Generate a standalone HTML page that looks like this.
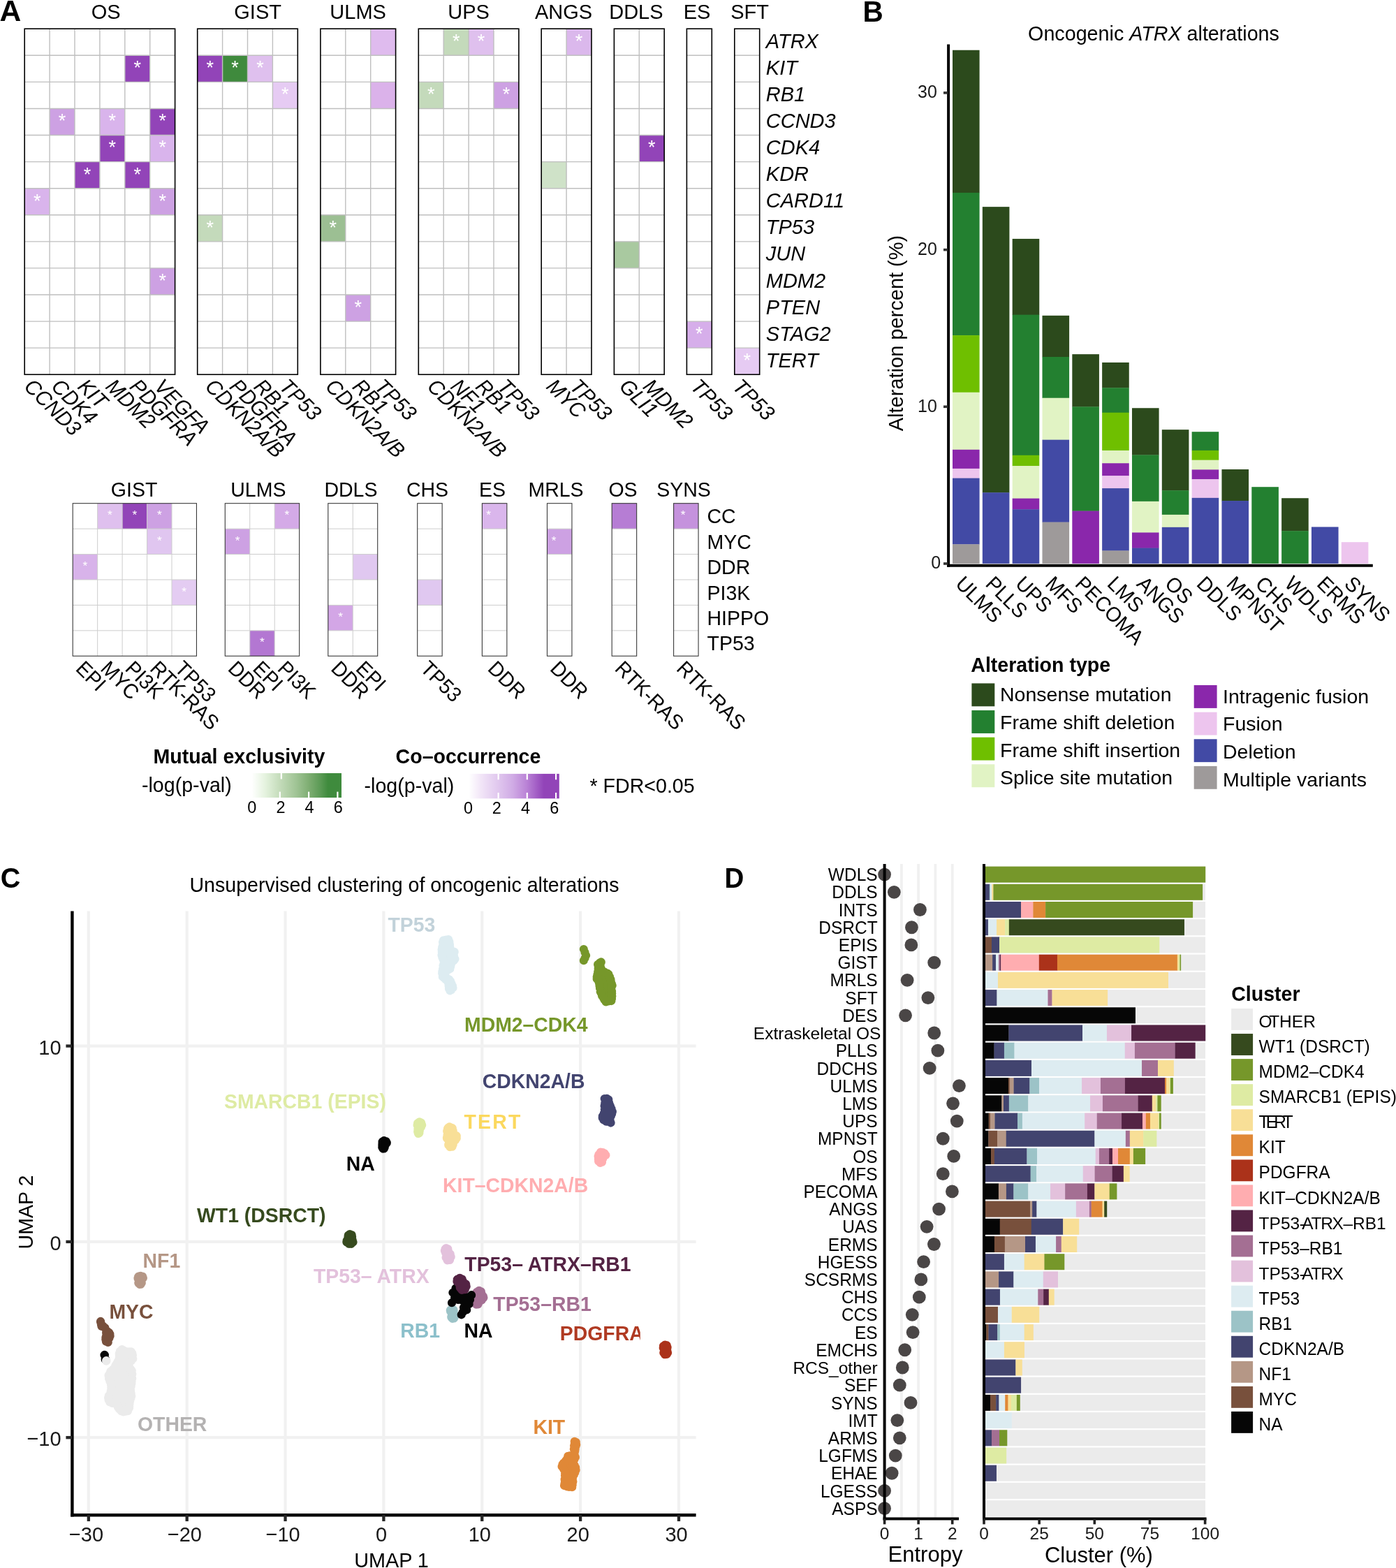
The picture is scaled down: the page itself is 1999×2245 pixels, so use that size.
<!DOCTYPE html>
<html lang="en"><head><meta charset="utf-8"><title>Figure</title>
<style>
html,body{margin:0;padding:0;background:#fff;}
body{width:1999px;height:2245px;overflow:hidden;}
svg{display:block;font-family:"Liberation Sans", Arial, Helvetica, sans-serif;}
</style></head><body>
<svg width="1999" height="2245" viewBox="0 0 1999 2245">
<rect width="1999" height="2245" fill="#fff"/>
<g id="panelA">
<text x="-0.60" y="29.90" font-size="42.60" font-weight="bold">A</text>
<rect x="35.20" y="41.20" width="215.40" height="495.04" fill="#fff"/>
<rect x="178.80" y="79.28" width="35.90" height="38.08" fill="#9244b8"/>
<rect x="71.10" y="155.44" width="35.90" height="38.08" fill="#cda1e3"/>
<rect x="142.90" y="155.44" width="35.90" height="38.08" fill="#d9b4ec"/>
<rect x="214.70" y="155.44" width="35.90" height="38.08" fill="#9244b8"/>
<rect x="142.90" y="193.52" width="35.90" height="38.08" fill="#9244b8"/>
<rect x="214.70" y="193.52" width="35.90" height="38.08" fill="#d9b4ec"/>
<rect x="107.00" y="231.60" width="35.90" height="38.08" fill="#9244b8"/>
<rect x="178.80" y="231.60" width="35.90" height="38.08" fill="#9244b8"/>
<rect x="35.20" y="269.68" width="35.90" height="38.08" fill="#d9b4ec"/>
<rect x="214.70" y="269.68" width="35.90" height="38.08" fill="#cda1e3"/>
<rect x="214.70" y="383.92" width="35.90" height="38.08" fill="#cda1e3"/>
<path d="M71.10 41.20V536.24M107.00 41.20V536.24M142.90 41.20V536.24M178.80 41.20V536.24M214.70 41.20V536.24M35.20 79.28H250.60M35.20 117.36H250.60M35.20 155.44H250.60M35.20 193.52H250.60M35.20 231.60H250.60M35.20 269.68H250.60M35.20 307.76H250.60M35.20 345.84H250.60M35.20 383.92H250.60M35.20 422.00H250.60M35.20 460.08H250.60M35.20 498.16H250.60" stroke="#bfbfbf" stroke-width="1.4" fill="none"/>
<text x="196.75" y="106.22" font-size="27.00" text-anchor="middle" fill="#fff">*</text>
<text x="89.05" y="182.38" font-size="27.00" text-anchor="middle" fill="#fff">*</text>
<text x="160.85" y="182.38" font-size="27.00" text-anchor="middle" fill="#fff">*</text>
<text x="232.65" y="182.38" font-size="27.00" text-anchor="middle" fill="#fff">*</text>
<text x="160.85" y="220.46" font-size="27.00" text-anchor="middle" fill="#fff">*</text>
<text x="232.65" y="220.46" font-size="27.00" text-anchor="middle" fill="#fff">*</text>
<text x="124.95" y="258.54" font-size="27.00" text-anchor="middle" fill="#fff">*</text>
<text x="196.75" y="258.54" font-size="27.00" text-anchor="middle" fill="#fff">*</text>
<text x="53.15" y="296.62" font-size="27.00" text-anchor="middle" fill="#fff">*</text>
<text x="232.65" y="296.62" font-size="27.00" text-anchor="middle" fill="#fff">*</text>
<text x="232.65" y="410.86" font-size="27.00" text-anchor="middle" fill="#fff">*</text>
<rect x="35.20" y="41.20" width="215.40" height="495.04" fill="none" stroke="#000" stroke-width="1.6"/>
<text transform="translate(151.60,26.60) scale(0.9579,1)" font-size="30.28" text-anchor="middle">OS</text>
<text transform="translate(33.05,555.04) rotate(45) scale(0.9579,1)" font-size="30.28" font-style="italic">CCND3</text>
<text transform="translate(72.05,555.04) rotate(45) scale(0.9579,1)" font-size="30.28" font-style="italic">CDK4</text>
<text transform="translate(109.85,555.04) rotate(45) scale(0.9579,1)" font-size="30.28" font-style="italic">KIT</text>
<text transform="translate(149.65,555.04) rotate(45) scale(0.9579,1)" font-size="30.28" font-style="italic">MDM2</text>
<text transform="translate(184.35,555.04) rotate(45) scale(0.9579,1)" font-size="30.28" font-style="italic">PDGFRA</text>
<text transform="translate(219.45,555.04) rotate(45) scale(0.9579,1)" font-size="30.28" font-style="italic">VEGFA</text>
<rect x="282.70" y="41.20" width="143.60" height="495.04" fill="#fff"/>
<rect x="282.70" y="79.28" width="35.90" height="38.08" fill="#9244b8"/>
<rect x="318.60" y="79.28" width="35.90" height="38.08" fill="#3f8a3d"/>
<rect x="354.50" y="79.28" width="35.90" height="38.08" fill="#dfc0ee"/>
<rect x="390.40" y="117.36" width="35.90" height="38.08" fill="#e6cbf3"/>
<rect x="282.70" y="307.76" width="35.90" height="38.08" fill="#c4dabb"/>
<path d="M318.60 41.20V536.24M354.50 41.20V536.24M390.40 41.20V536.24M282.70 79.28H426.30M282.70 117.36H426.30M282.70 155.44H426.30M282.70 193.52H426.30M282.70 231.60H426.30M282.70 269.68H426.30M282.70 307.76H426.30M282.70 345.84H426.30M282.70 383.92H426.30M282.70 422.00H426.30M282.70 460.08H426.30M282.70 498.16H426.30" stroke="#bfbfbf" stroke-width="1.4" fill="none"/>
<text x="300.65" y="106.22" font-size="27.00" text-anchor="middle" fill="#fff">*</text>
<text x="336.55" y="106.22" font-size="27.00" text-anchor="middle" fill="#fff">*</text>
<text x="372.45" y="106.22" font-size="27.00" text-anchor="middle" fill="#fff">*</text>
<text x="408.35" y="144.30" font-size="27.00" text-anchor="middle" fill="#fff">*</text>
<text x="300.65" y="334.70" font-size="27.00" text-anchor="middle" fill="#fff">*</text>
<rect x="282.70" y="41.20" width="143.60" height="495.04" fill="none" stroke="#000" stroke-width="1.6"/>
<text transform="translate(369.10,26.60) scale(0.9579,1)" font-size="30.28" text-anchor="middle">GIST</text>
<text transform="translate(292.15,555.04) rotate(45) scale(0.9579,1)" font-size="30.28" font-style="italic">CDKN2A/B</text>
<text transform="translate(327.25,555.04) rotate(45) scale(0.9579,1)" font-size="30.28" font-style="italic">PDGFRA</text>
<text transform="translate(362.05,555.04) rotate(45) scale(0.9579,1)" font-size="30.28" font-style="italic">RB1</text>
<text transform="translate(398.45,555.04) rotate(45) scale(0.9579,1)" font-size="30.28" font-style="italic">TP53</text>
<rect x="458.90" y="41.20" width="107.70" height="495.04" fill="#fff"/>
<rect x="530.70" y="41.20" width="35.90" height="38.08" fill="#dfbbee"/>
<rect x="530.70" y="117.36" width="35.90" height="38.08" fill="#dbb2ea"/>
<rect x="458.90" y="307.76" width="35.90" height="38.08" fill="#9cbf93"/>
<rect x="494.80" y="422.00" width="35.90" height="38.08" fill="#cda1e3"/>
<path d="M494.80 41.20V536.24M530.70 41.20V536.24M458.90 79.28H566.60M458.90 117.36H566.60M458.90 155.44H566.60M458.90 193.52H566.60M458.90 231.60H566.60M458.90 269.68H566.60M458.90 307.76H566.60M458.90 345.84H566.60M458.90 383.92H566.60M458.90 422.00H566.60M458.90 460.08H566.60M458.90 498.16H566.60" stroke="#bfbfbf" stroke-width="1.4" fill="none"/>
<text x="476.85" y="334.70" font-size="27.00" text-anchor="middle" fill="#fff">*</text>
<text x="512.75" y="448.94" font-size="27.00" text-anchor="middle" fill="#fff">*</text>
<rect x="458.90" y="41.20" width="107.70" height="495.04" fill="none" stroke="#000" stroke-width="1.6"/>
<text transform="translate(512.60,26.60) scale(0.9579,1)" font-size="30.28" text-anchor="middle">ULMS</text>
<text transform="translate(464.55,555.04) rotate(45) scale(0.9579,1)" font-size="30.28" font-style="italic">CDKN2A/B</text>
<text transform="translate(503.25,555.04) rotate(45) scale(0.9579,1)" font-size="30.28" font-style="italic">RB1</text>
<text transform="translate(534.95,555.04) rotate(45) scale(0.9579,1)" font-size="30.28" font-style="italic">TP53</text>
<rect x="599.30" y="41.20" width="143.60" height="495.04" fill="#fff"/>
<rect x="635.20" y="41.20" width="35.90" height="38.08" fill="#c4dabb"/>
<rect x="671.10" y="41.20" width="35.90" height="38.08" fill="#dfc0ee"/>
<rect x="599.30" y="117.36" width="35.90" height="38.08" fill="#c4dabb"/>
<rect x="707.00" y="117.36" width="35.90" height="38.08" fill="#cda1e3"/>
<path d="M635.20 41.20V536.24M671.10 41.20V536.24M707.00 41.20V536.24M599.30 79.28H742.90M599.30 117.36H742.90M599.30 155.44H742.90M599.30 193.52H742.90M599.30 231.60H742.90M599.30 269.68H742.90M599.30 307.76H742.90M599.30 345.84H742.90M599.30 383.92H742.90M599.30 422.00H742.90M599.30 460.08H742.90M599.30 498.16H742.90" stroke="#bfbfbf" stroke-width="1.4" fill="none"/>
<text x="653.15" y="68.14" font-size="27.00" text-anchor="middle" fill="#fff">*</text>
<text x="689.05" y="68.14" font-size="27.00" text-anchor="middle" fill="#fff">*</text>
<text x="617.25" y="144.30" font-size="27.00" text-anchor="middle" fill="#fff">*</text>
<text x="724.95" y="144.30" font-size="27.00" text-anchor="middle" fill="#fff">*</text>
<rect x="599.30" y="41.20" width="143.60" height="495.04" fill="none" stroke="#000" stroke-width="1.6"/>
<text transform="translate(671.00,26.60) scale(0.9579,1)" font-size="30.28" text-anchor="middle">UPS</text>
<text transform="translate(610.25,555.04) rotate(45) scale(0.9579,1)" font-size="30.28" font-style="italic">CDKN2A/B</text>
<text transform="translate(643.65,555.04) rotate(45) scale(0.9579,1)" font-size="30.28" font-style="italic">NF1</text>
<text transform="translate(679.55,555.04) rotate(45) scale(0.9579,1)" font-size="30.28" font-style="italic">RB1</text>
<text transform="translate(710.75,555.04) rotate(45) scale(0.9579,1)" font-size="30.28" font-style="italic">TP53</text>
<rect x="775.20" y="41.20" width="71.80" height="495.04" fill="#fff"/>
<rect x="811.10" y="41.20" width="35.90" height="38.08" fill="#dbb8ec"/>
<rect x="775.20" y="231.60" width="35.90" height="38.08" fill="#cfe2c8"/>
<path d="M811.10 41.20V536.24M775.20 79.28H847.00M775.20 117.36H847.00M775.20 155.44H847.00M775.20 193.52H847.00M775.20 231.60H847.00M775.20 269.68H847.00M775.20 307.76H847.00M775.20 345.84H847.00M775.20 383.92H847.00M775.20 422.00H847.00M775.20 460.08H847.00M775.20 498.16H847.00" stroke="#bfbfbf" stroke-width="1.4" fill="none"/>
<text x="829.05" y="68.14" font-size="27.00" text-anchor="middle" fill="#fff">*</text>
<rect x="775.20" y="41.20" width="71.80" height="495.04" fill="none" stroke="#000" stroke-width="1.6"/>
<text transform="translate(807.10,26.60) scale(0.9579,1)" font-size="30.28" text-anchor="middle">ANGS</text>
<text transform="translate(780.85,555.04) rotate(45) scale(0.9579,1)" font-size="30.28" font-style="italic">MYC</text>
<text transform="translate(814.55,555.04) rotate(45) scale(0.9579,1)" font-size="30.28" font-style="italic">TP53</text>
<rect x="879.40" y="41.20" width="71.80" height="495.04" fill="#fff"/>
<rect x="915.30" y="193.52" width="35.90" height="38.08" fill="#9244b8"/>
<rect x="879.40" y="345.84" width="35.90" height="38.08" fill="#a9c9a0"/>
<path d="M915.30 41.20V536.24M879.40 79.28H951.20M879.40 117.36H951.20M879.40 155.44H951.20M879.40 193.52H951.20M879.40 231.60H951.20M879.40 269.68H951.20M879.40 307.76H951.20M879.40 345.84H951.20M879.40 383.92H951.20M879.40 422.00H951.20M879.40 460.08H951.20M879.40 498.16H951.20" stroke="#bfbfbf" stroke-width="1.4" fill="none"/>
<text x="933.25" y="220.46" font-size="27.00" text-anchor="middle" fill="#fff">*</text>
<rect x="879.40" y="41.20" width="71.80" height="495.04" fill="none" stroke="#000" stroke-width="1.6"/>
<text transform="translate(910.90,26.60) scale(0.9579,1)" font-size="30.28" text-anchor="middle">DDLS</text>
<text transform="translate(885.15,555.04) rotate(45) scale(0.9579,1)" font-size="30.28" font-style="italic">GLI1</text>
<text transform="translate(919.35,555.04) rotate(45) scale(0.9579,1)" font-size="30.28" font-style="italic">MDM2</text>
<rect x="983.40" y="41.20" width="35.90" height="495.04" fill="#fff"/>
<rect x="983.40" y="460.08" width="35.90" height="38.08" fill="#d6aeea"/>
<path d="M983.40 79.28H1019.30M983.40 117.36H1019.30M983.40 155.44H1019.30M983.40 193.52H1019.30M983.40 231.60H1019.30M983.40 269.68H1019.30M983.40 307.76H1019.30M983.40 345.84H1019.30M983.40 383.92H1019.30M983.40 422.00H1019.30M983.40 460.08H1019.30M983.40 498.16H1019.30" stroke="#bfbfbf" stroke-width="1.4" fill="none"/>
<text x="1001.35" y="487.02" font-size="27.00" text-anchor="middle" fill="#fff">*</text>
<rect x="983.40" y="41.20" width="35.90" height="495.04" fill="none" stroke="#000" stroke-width="1.6"/>
<text transform="translate(998.00,26.60) scale(0.9579,1)" font-size="30.28" text-anchor="middle">ES</text>
<text transform="translate(987.45,555.04) rotate(45) scale(0.9579,1)" font-size="30.28" font-style="italic">TP53</text>
<rect x="1051.80" y="41.20" width="35.90" height="495.04" fill="#fff"/>
<rect x="1051.80" y="498.16" width="35.90" height="38.08" fill="#e6cbf3"/>
<path d="M1051.80 79.28H1087.70M1051.80 117.36H1087.70M1051.80 155.44H1087.70M1051.80 193.52H1087.70M1051.80 231.60H1087.70M1051.80 269.68H1087.70M1051.80 307.76H1087.70M1051.80 345.84H1087.70M1051.80 383.92H1087.70M1051.80 422.00H1087.70M1051.80 460.08H1087.70M1051.80 498.16H1087.70" stroke="#bfbfbf" stroke-width="1.4" fill="none"/>
<text x="1069.75" y="525.10" font-size="27.00" text-anchor="middle" fill="#fff">*</text>
<rect x="1051.80" y="41.20" width="35.90" height="495.04" fill="none" stroke="#000" stroke-width="1.6"/>
<text transform="translate(1073.50,26.60) scale(0.9579,1)" font-size="30.28" text-anchor="middle">SFT</text>
<text transform="translate(1047.55,555.04) rotate(45) scale(0.9579,1)" font-size="30.28" font-style="italic">TP53</text>
<text transform="translate(1096.80,68.84) scale(0.9579,1)" font-size="30.28" font-style="italic">ATRX</text>
<text transform="translate(1096.80,106.92) scale(0.9579,1)" font-size="30.28" font-style="italic">KIT</text>
<text transform="translate(1096.80,145.00) scale(0.9579,1)" font-size="30.28" font-style="italic">RB1</text>
<text transform="translate(1096.80,183.08) scale(0.9579,1)" font-size="30.28" font-style="italic">CCND3</text>
<text transform="translate(1096.80,221.16) scale(0.9579,1)" font-size="30.28" font-style="italic">CDK4</text>
<text transform="translate(1096.80,259.24) scale(0.9579,1)" font-size="30.28" font-style="italic">KDR</text>
<text transform="translate(1096.80,297.32) scale(0.9579,1)" font-size="30.28" font-style="italic">CARD11</text>
<text transform="translate(1096.80,335.40) scale(0.9579,1)" font-size="30.28" font-style="italic">TP53</text>
<text transform="translate(1096.80,373.48) scale(0.9579,1)" font-size="30.28" font-style="italic">JUN</text>
<text transform="translate(1096.80,411.56) scale(0.9579,1)" font-size="30.28" font-style="italic">MDM2</text>
<text transform="translate(1096.80,449.64) scale(0.9579,1)" font-size="30.28" font-style="italic">PTEN</text>
<text transform="translate(1096.80,487.72) scale(0.9579,1)" font-size="30.28" font-style="italic">STAG2</text>
<text transform="translate(1096.80,525.80) scale(0.9579,1)" font-size="30.28" font-style="italic">TERT</text>
<rect x="104.20" y="720.70" width="177.25" height="218.58" fill="#fff"/>
<rect x="139.65" y="720.70" width="35.45" height="36.43" fill="#dfc0ee"/>
<rect x="175.10" y="720.70" width="35.45" height="36.43" fill="#9244b8"/>
<rect x="210.55" y="720.70" width="35.45" height="36.43" fill="#cda1e3"/>
<rect x="210.55" y="757.13" width="35.45" height="36.43" fill="#e0c6f0"/>
<rect x="104.20" y="793.56" width="35.45" height="36.43" fill="#d8b3ea"/>
<rect x="246.00" y="829.99" width="35.45" height="36.43" fill="#e4ccf2"/>
<path d="M139.65 720.70V939.28M175.10 720.70V939.28M210.55 720.70V939.28M246.00 720.70V939.28M104.20 757.13H281.45M104.20 793.56H281.45M104.20 829.99H281.45M104.20 866.42H281.45M104.20 902.85H281.45" stroke="#cdcdcd" stroke-width="1.0" fill="none"/>
<text x="157.38" y="743.22" font-size="17.30" text-anchor="middle" fill="#fff">*</text>
<text x="192.82" y="743.22" font-size="17.30" text-anchor="middle" fill="#fff">*</text>
<text x="228.28" y="743.22" font-size="17.30" text-anchor="middle" fill="#fff">*</text>
<text x="228.28" y="779.64" font-size="17.30" text-anchor="middle" fill="#fff">*</text>
<text x="121.93" y="816.08" font-size="17.30" text-anchor="middle" fill="#fff">*</text>
<text x="263.73" y="852.50" font-size="17.30" text-anchor="middle" fill="#fff">*</text>
<rect x="104.20" y="720.70" width="177.25" height="218.58" fill="none" stroke="#3a3a3a" stroke-width="1.1"/>
<text transform="translate(192.10,711.00) scale(0.9579,1)" font-size="29.75" text-anchor="middle">GIST</text>
<text transform="translate(106.93,958.78) rotate(45) scale(0.9579,1)" font-size="29.75">EPI</text>
<text transform="translate(142.38,958.78) rotate(45) scale(0.9579,1)" font-size="29.75">MYC</text>
<text transform="translate(177.82,958.78) rotate(45) scale(0.9579,1)" font-size="29.75">PI3K</text>
<text transform="translate(213.28,958.78) rotate(45) scale(0.9579,1)" font-size="29.75">RTK-RAS</text>
<text transform="translate(248.73,958.78) rotate(45) scale(0.9579,1)" font-size="29.75">TP53</text>
<rect x="322.30" y="720.70" width="106.35" height="218.58" fill="#fff"/>
<rect x="393.20" y="720.70" width="35.45" height="36.43" fill="#d4aae7"/>
<rect x="322.30" y="757.13" width="35.45" height="36.43" fill="#cda1e3"/>
<rect x="357.75" y="902.85" width="35.45" height="36.43" fill="#b377d2"/>
<path d="M357.75 720.70V939.28M393.20 720.70V939.28M322.30 757.13H428.65M322.30 793.56H428.65M322.30 829.99H428.65M322.30 866.42H428.65M322.30 902.85H428.65" stroke="#cdcdcd" stroke-width="1.0" fill="none"/>
<text x="410.93" y="743.22" font-size="17.30" text-anchor="middle" fill="#fff">*</text>
<text x="340.03" y="779.64" font-size="17.30" text-anchor="middle" fill="#fff">*</text>
<text x="375.48" y="925.37" font-size="17.30" text-anchor="middle" fill="#fff">*</text>
<rect x="322.30" y="720.70" width="106.35" height="218.58" fill="none" stroke="#3a3a3a" stroke-width="1.1"/>
<text transform="translate(369.80,711.00) scale(0.9579,1)" font-size="29.75" text-anchor="middle">ULMS</text>
<text transform="translate(325.03,958.78) rotate(45) scale(0.9579,1)" font-size="29.75">DDR</text>
<text transform="translate(360.48,958.78) rotate(45) scale(0.9579,1)" font-size="29.75">EPI</text>
<text transform="translate(395.93,958.78) rotate(45) scale(0.9579,1)" font-size="29.75">PI3K</text>
<rect x="469.80" y="720.70" width="70.90" height="218.58" fill="#fff"/>
<rect x="505.25" y="793.56" width="35.45" height="36.43" fill="#e0c8f0"/>
<rect x="469.80" y="866.42" width="35.45" height="36.43" fill="#d3a6e6"/>
<path d="M505.25 720.70V939.28M469.80 757.13H540.70M469.80 793.56H540.70M469.80 829.99H540.70M469.80 866.42H540.70M469.80 902.85H540.70" stroke="#cdcdcd" stroke-width="1.0" fill="none"/>
<text x="487.53" y="888.93" font-size="17.30" text-anchor="middle" fill="#fff">*</text>
<rect x="469.80" y="720.70" width="70.90" height="218.58" fill="none" stroke="#3a3a3a" stroke-width="1.1"/>
<text transform="translate(502.40,711.00) scale(0.9579,1)" font-size="29.75" text-anchor="middle">DDLS</text>
<text transform="translate(472.53,958.78) rotate(45) scale(0.9579,1)" font-size="29.75">DDR</text>
<text transform="translate(507.98,958.78) rotate(45) scale(0.9579,1)" font-size="29.75">EPI</text>
<rect x="597.70" y="720.70" width="35.45" height="218.58" fill="#fff"/>
<rect x="597.70" y="829.99" width="35.45" height="36.43" fill="#e0c8f0"/>
<path d="M597.70 757.13H633.15M597.70 793.56H633.15M597.70 829.99H633.15M597.70 866.42H633.15M597.70 902.85H633.15" stroke="#cdcdcd" stroke-width="1.0" fill="none"/>
<rect x="597.70" y="720.70" width="35.45" height="218.58" fill="none" stroke="#3a3a3a" stroke-width="1.1"/>
<text transform="translate(612.00,711.00) scale(0.9579,1)" font-size="29.75" text-anchor="middle">CHS</text>
<text transform="translate(600.43,958.78) rotate(45) scale(0.9579,1)" font-size="29.75">TP53</text>
<rect x="690.40" y="720.70" width="35.45" height="218.58" fill="#fff"/>
<rect x="690.40" y="720.70" width="35.45" height="36.43" fill="#dab6ec"/>
<path d="M690.40 757.13H725.85M690.40 793.56H725.85M690.40 829.99H725.85M690.40 866.42H725.85M690.40 902.85H725.85" stroke="#cdcdcd" stroke-width="1.0" fill="none"/>
<text x="699.62" y="743.22" font-size="17.30" text-anchor="middle" fill="#fff">*</text>
<rect x="690.40" y="720.70" width="35.45" height="218.58" fill="none" stroke="#3a3a3a" stroke-width="1.1"/>
<text transform="translate(705.00,711.00) scale(0.9579,1)" font-size="29.75" text-anchor="middle">ES</text>
<text transform="translate(696.92,958.78) rotate(45) scale(0.9579,1)" font-size="29.75">DDR</text>
<rect x="783.50" y="720.70" width="35.45" height="218.58" fill="#fff"/>
<rect x="783.50" y="757.13" width="35.45" height="36.43" fill="#cda1e3"/>
<path d="M783.50 757.13H818.95M783.50 793.56H818.95M783.50 829.99H818.95M783.50 866.42H818.95M783.50 902.85H818.95" stroke="#cdcdcd" stroke-width="1.0" fill="none"/>
<text x="793.23" y="779.64" font-size="17.30" text-anchor="middle" fill="#fff">*</text>
<rect x="783.50" y="720.70" width="35.45" height="218.58" fill="none" stroke="#3a3a3a" stroke-width="1.1"/>
<text transform="translate(796.00,711.00) scale(0.9579,1)" font-size="29.75" text-anchor="middle">MRLS</text>
<text transform="translate(786.23,958.78) rotate(45) scale(0.9579,1)" font-size="29.75">DDR</text>
<rect x="876.20" y="720.70" width="35.45" height="218.58" fill="#fff"/>
<rect x="876.20" y="720.70" width="35.45" height="36.43" fill="#b67dd4"/>
<path d="M876.20 757.13H911.65M876.20 793.56H911.65M876.20 829.99H911.65M876.20 866.42H911.65M876.20 902.85H911.65" stroke="#cdcdcd" stroke-width="1.0" fill="none"/>
<rect x="876.20" y="720.70" width="35.45" height="218.58" fill="none" stroke="#3a3a3a" stroke-width="1.1"/>
<text transform="translate(892.00,711.00) scale(0.9579,1)" font-size="29.75" text-anchor="middle">OS</text>
<text transform="translate(878.93,958.78) rotate(45) scale(0.9579,1)" font-size="29.75">RTK-RAS</text>
<rect x="964.60" y="720.70" width="35.45" height="218.58" fill="#fff"/>
<rect x="964.60" y="720.70" width="35.45" height="36.43" fill="#c592dd"/>
<path d="M964.60 757.13H1000.05M964.60 793.56H1000.05M964.60 829.99H1000.05M964.60 866.42H1000.05M964.60 902.85H1000.05" stroke="#cdcdcd" stroke-width="1.0" fill="none"/>
<text x="978.12" y="743.22" font-size="17.30" text-anchor="middle" fill="#fff">*</text>
<rect x="964.60" y="720.70" width="35.45" height="218.58" fill="none" stroke="#3a3a3a" stroke-width="1.1"/>
<text transform="translate(979.00,711.00) scale(0.9579,1)" font-size="29.75" text-anchor="middle">SYNS</text>
<text transform="translate(967.33,958.78) rotate(45) scale(0.9579,1)" font-size="29.75">RTK-RAS</text>
<text transform="translate(1012.50,749.22) scale(0.9579,1)" font-size="29.75">CC</text>
<text transform="translate(1012.50,785.64) scale(0.9579,1)" font-size="29.75">MYC</text>
<text transform="translate(1012.50,822.08) scale(0.9579,1)" font-size="29.75">DDR</text>
<text transform="translate(1012.50,858.50) scale(0.9579,1)" font-size="29.75">PI3K</text>
<text transform="translate(1012.50,894.93) scale(0.9579,1)" font-size="29.75">HIPPO</text>
<text transform="translate(1012.50,931.37) scale(0.9579,1)" font-size="29.75">TP53</text>
<defs><linearGradient id="gG" x1="0" x2="1" y1="0" y2="0"><stop offset="0" stop-color="#ffffff"/><stop offset="0.147" stop-color="#e5f3df"/><stop offset="0.317" stop-color="#c3dbb9"/><stop offset="0.494" stop-color="#a0c495"/><stop offset="0.633" stop-color="#7fae73"/><stop offset="0.764" stop-color="#5b9a55"/><stop offset="0.85" stop-color="#3f8b3d"/><stop offset="1" stop-color="#3f8b3d"/></linearGradient><linearGradient id="gP" x1="0" x2="1" y1="0" y2="0"><stop offset="0" stop-color="#ffffff"/><stop offset="0.141" stop-color="#f1e4f7"/><stop offset="0.324" stop-color="#e0c7ee"/><stop offset="0.485" stop-color="#d0abe5"/><stop offset="0.637" stop-color="#ba83d6"/><stop offset="0.752" stop-color="#a25dc5"/><stop offset="0.83" stop-color="#9244b8"/><stop offset="1" stop-color="#9244b8"/></linearGradient></defs>
<text transform="translate(219.60,1092.60) scale(0.9450,1)" font-size="30.20" font-weight="bold">Mutual exclusivity</text>
<text x="203.00" y="1134.30" font-size="28.60">-log(p-val)</text>
<rect x="360.60" y="1107.00" width="128.40" height="35.00" fill="url(#gG)"/>
<line x1="400.80" y1="1133.60" x2="400.80" y2="1142.00" stroke="#fff" stroke-width="2.2"/>
<line x1="442.10" y1="1133.60" x2="442.10" y2="1142.00" stroke="#fff" stroke-width="2.2"/>
<line x1="483.40" y1="1133.60" x2="483.40" y2="1142.00" stroke="#fff" stroke-width="2.2"/>
<line x1="402.80" y1="1107.00" x2="402.80" y2="1115.40" stroke="#fff" stroke-width="2.2"/>
<text transform="translate(360.90,1164.20) scale(0.9579,1)" font-size="24.53" text-anchor="middle">0</text>
<text transform="translate(402.00,1164.20) scale(0.9579,1)" font-size="24.53" text-anchor="middle">2</text>
<text transform="translate(443.10,1164.20) scale(0.9579,1)" font-size="24.53" text-anchor="middle">4</text>
<text transform="translate(484.40,1164.20) scale(0.9579,1)" font-size="24.53" text-anchor="middle">6</text>
<text transform="translate(566.60,1092.90) scale(0.9450,1)" font-size="30.20" font-weight="bold">Co–occurrence</text>
<text x="521.60" y="1134.80" font-size="28.60">-log(p-val)</text>
<rect x="671.50" y="1107.90" width="129.30" height="35.40" fill="url(#gP)"/>
<line x1="713.60" y1="1134.90" x2="713.60" y2="1143.30" stroke="#fff" stroke-width="2.2"/>
<line x1="754.80" y1="1134.90" x2="754.80" y2="1143.30" stroke="#fff" stroke-width="2.2"/>
<line x1="796.10" y1="1134.90" x2="796.10" y2="1143.30" stroke="#fff" stroke-width="2.2"/>
<line x1="713.60" y1="1107.90" x2="713.60" y2="1116.30" stroke="#fff" stroke-width="2.2"/>
<line x1="754.80" y1="1107.90" x2="754.80" y2="1116.30" stroke="#fff" stroke-width="2.2"/>
<line x1="796.10" y1="1107.90" x2="796.10" y2="1116.30" stroke="#fff" stroke-width="2.2"/>
<text transform="translate(670.50,1164.60) scale(0.9579,1)" font-size="24.53" text-anchor="middle">0</text>
<text transform="translate(711.30,1164.60) scale(0.9579,1)" font-size="24.53" text-anchor="middle">2</text>
<text transform="translate(752.60,1164.60) scale(0.9579,1)" font-size="24.53" text-anchor="middle">4</text>
<text transform="translate(793.90,1164.60) scale(0.9579,1)" font-size="24.53" text-anchor="middle">6</text>
<text transform="translate(844.50,1135.40) scale(0.9579,1)" font-size="29.86">* FDR&lt;0.05</text>
</g>
<g id="panelB">
<text transform="translate(1235.60,30.90) scale(0.9700,1)" font-size="41.80" font-weight="bold">B</text>
<text x="1652" y="58.4" font-size="28.7" text-anchor="middle">Oncogenic <tspan font-style="italic">ATRX</tspan> alterations</text>
<rect x="1364.00" y="71.75" width="38.60" height="204.46" fill="#2c4a1c"/>
<rect x="1364.00" y="275.91" width="38.60" height="204.46" fill="#238030"/>
<rect x="1364.00" y="480.07" width="38.60" height="81.96" fill="#6fbf00"/>
<rect x="1364.00" y="561.73" width="38.60" height="82.35" fill="#e1f3c4"/>
<rect x="1364.00" y="643.78" width="38.60" height="27.39" fill="#8a27ab"/>
<rect x="1364.00" y="670.87" width="38.60" height="14.04" fill="#edc5ee"/>
<rect x="1364.00" y="684.61" width="38.60" height="94.94" fill="#424aa5"/>
<rect x="1364.00" y="779.25" width="38.60" height="27.65" fill="#9e9a9a"/>
<text transform="translate(1366.80,837.60) rotate(45) scale(0.9579,1)" font-size="29.75">ULMS</text>
<rect x="1406.83" y="296.14" width="38.60" height="409.38" fill="#2c4a1c"/>
<rect x="1406.83" y="705.22" width="38.60" height="101.68" fill="#424aa5"/>
<text transform="translate(1409.63,837.60) rotate(45) scale(0.9579,1)" font-size="29.75">PLLS</text>
<rect x="1449.66" y="341.93" width="38.60" height="109.06" fill="#2c4a1c"/>
<rect x="1449.66" y="450.69" width="38.60" height="201.41" fill="#238030"/>
<rect x="1449.66" y="651.79" width="38.60" height="15.56" fill="#6fbf00"/>
<rect x="1449.66" y="667.06" width="38.60" height="46.86" fill="#e1f3c4"/>
<rect x="1449.66" y="713.61" width="38.60" height="15.95" fill="#8a27ab"/>
<rect x="1449.66" y="729.26" width="38.60" height="77.64" fill="#424aa5"/>
<text transform="translate(1452.46,837.60) rotate(45) scale(0.9579,1)" font-size="29.75">UPS</text>
<rect x="1492.49" y="451.83" width="38.60" height="59.45" fill="#2c4a1c"/>
<rect x="1492.49" y="510.98" width="38.60" height="59.07" fill="#238030"/>
<rect x="1492.49" y="569.75" width="38.60" height="60.21" fill="#e1f3c4"/>
<rect x="1492.49" y="629.66" width="38.60" height="118.22" fill="#424aa5"/>
<rect x="1492.49" y="747.58" width="38.60" height="59.32" fill="#9e9a9a"/>
<text transform="translate(1495.29,837.60) rotate(45) scale(0.9579,1)" font-size="29.75">MFS</text>
<rect x="1535.32" y="507.16" width="38.60" height="75.48" fill="#2c4a1c"/>
<rect x="1535.32" y="582.34" width="38.60" height="149.51" fill="#238030"/>
<rect x="1535.32" y="731.55" width="38.60" height="75.35" fill="#8a27ab"/>
<text transform="translate(1538.12,837.60) rotate(45) scale(0.9579,1)" font-size="29.75">PECOMA</text>
<rect x="1578.15" y="518.99" width="38.60" height="36.55" fill="#2c4a1c"/>
<rect x="1578.15" y="555.25" width="38.60" height="35.79" fill="#238030"/>
<rect x="1578.15" y="590.74" width="38.60" height="54.49" fill="#6fbf00"/>
<rect x="1578.15" y="644.92" width="38.60" height="18.62" fill="#e1f3c4"/>
<rect x="1578.15" y="663.24" width="38.60" height="18.24" fill="#8a27ab"/>
<rect x="1578.15" y="681.18" width="38.60" height="18.24" fill="#edc5ee"/>
<rect x="1578.15" y="699.11" width="38.60" height="89.60" fill="#424aa5"/>
<rect x="1578.15" y="788.41" width="38.60" height="18.49" fill="#9e9a9a"/>
<text transform="translate(1583.95,837.60) rotate(45) scale(0.9579,1)" font-size="29.75">LMS</text>
<rect x="1620.98" y="584.25" width="38.60" height="67.46" fill="#2c4a1c"/>
<rect x="1620.98" y="651.41" width="38.60" height="66.70" fill="#238030"/>
<rect x="1620.98" y="717.81" width="38.60" height="44.95" fill="#e1f3c4"/>
<rect x="1620.98" y="762.46" width="38.60" height="22.43" fill="#8a27ab"/>
<rect x="1620.98" y="784.59" width="38.60" height="22.31" fill="#424aa5"/>
<text transform="translate(1626.28,837.60) rotate(45) scale(0.9579,1)" font-size="29.75">ANGS</text>
<rect x="1663.81" y="615.16" width="38.60" height="87.31" fill="#2c4a1c"/>
<rect x="1663.81" y="702.17" width="38.60" height="35.03" fill="#238030"/>
<rect x="1663.81" y="736.89" width="38.60" height="18.24" fill="#e1f3c4"/>
<rect x="1663.81" y="754.83" width="38.60" height="52.07" fill="#424aa5"/>
<text transform="translate(1666.61,837.60) rotate(45) scale(0.9579,1)" font-size="29.75">OS</text>
<rect x="1706.64" y="618.21" width="38.60" height="27.01" fill="#238030"/>
<rect x="1706.64" y="644.92" width="38.60" height="14.04" fill="#6fbf00"/>
<rect x="1706.64" y="658.66" width="38.60" height="14.04" fill="#e1f3c4"/>
<rect x="1706.64" y="672.40" width="38.60" height="14.04" fill="#8a27ab"/>
<rect x="1706.64" y="686.14" width="38.60" height="27.01" fill="#edc5ee"/>
<rect x="1706.64" y="712.85" width="38.60" height="94.05" fill="#424aa5"/>
<text transform="translate(1711.94,837.60) rotate(45) scale(0.9579,1)" font-size="29.75">DDLS</text>
<rect x="1749.47" y="672.02" width="38.60" height="45.33" fill="#2c4a1c"/>
<rect x="1749.47" y="717.05" width="38.60" height="89.85" fill="#424aa5"/>
<text transform="translate(1754.77,837.60) rotate(45) scale(0.9579,1)" font-size="29.75">MPNST</text>
<rect x="1792.30" y="697.20" width="38.60" height="109.70" fill="#238030"/>
<text transform="translate(1796.10,837.60) rotate(45) scale(0.9579,1)" font-size="29.75">CHS</text>
<rect x="1835.13" y="713.23" width="38.60" height="47.24" fill="#2c4a1c"/>
<rect x="1835.13" y="760.17" width="38.60" height="46.73" fill="#238030"/>
<text transform="translate(1837.93,837.60) rotate(45) scale(0.9579,1)" font-size="29.75">WDLS</text>
<rect x="1877.96" y="754.45" width="38.60" height="52.45" fill="#424aa5"/>
<text transform="translate(1884.26,837.60) rotate(45) scale(0.9579,1)" font-size="29.75">ERMS</text>
<rect x="1920.79" y="776.20" width="38.60" height="30.70" fill="#edc5ee"/>
<text transform="translate(1923.59,837.60) rotate(45) scale(0.9579,1)" font-size="29.75">SYNS</text>
<line x1="1358.10" y1="63.50" x2="1358.10" y2="811.70" stroke="#000" stroke-width="4.0"/>
<line x1="1356.10" y1="809.70" x2="1965.80" y2="809.70" stroke="#000" stroke-width="4.0"/>
<line x1="1351.00" y1="132.90" x2="1357.00" y2="132.90" stroke="#333" stroke-width="3.6"/>
<text x="1341.80" y="140.10" font-size="25.00" text-anchor="end" fill="#1a1a1a">30</text>
<line x1="1351.00" y1="357.60" x2="1357.00" y2="357.60" stroke="#333" stroke-width="3.6"/>
<text x="1341.80" y="364.80" font-size="25.00" text-anchor="end" fill="#1a1a1a">20</text>
<line x1="1351.00" y1="582.30" x2="1357.00" y2="582.30" stroke="#333" stroke-width="3.6"/>
<text x="1341.80" y="589.50" font-size="25.00" text-anchor="end" fill="#1a1a1a">10</text>
<line x1="1351.00" y1="807.00" x2="1357.00" y2="807.00" stroke="#333" stroke-width="3.6"/>
<text x="1347.20" y="814.20" font-size="25.00" text-anchor="end" fill="#1a1a1a">0</text>
<text transform="translate(1292.50,477.00) rotate(-90)" font-size="29.00" text-anchor="middle">Alteration percent (%)</text>
<text transform="translate(1390.30,961.50) scale(0.9450,1)" font-size="30.20" font-weight="bold">Alteration type</text>
<rect x="1391.40" y="978.40" width="32.90" height="32.90" fill="#2c4a1c"/>
<text x="1432.00" y="1004.20" font-size="28.50">Nonsense mutation</text>
<rect x="1391.40" y="1017.03" width="32.90" height="32.90" fill="#238030"/>
<text x="1432.00" y="1043.95" font-size="28.50">Frame shift deletion</text>
<rect x="1391.40" y="1055.66" width="32.90" height="32.90" fill="#6fbf00"/>
<text x="1432.00" y="1083.70" font-size="28.50">Frame shift insertion</text>
<rect x="1391.40" y="1094.29" width="32.90" height="32.90" fill="#e1f3c4"/>
<text x="1432.00" y="1123.45" font-size="28.50">Splice site mutation</text>
<rect x="1709.70" y="981.00" width="32.90" height="32.90" fill="#8a27ab"/>
<text x="1751.00" y="1006.60" font-size="28.50">Intragenic fusion</text>
<rect x="1709.70" y="1019.63" width="32.90" height="32.90" fill="#edc5ee"/>
<text x="1751.00" y="1046.35" font-size="28.50">Fusion</text>
<rect x="1709.70" y="1058.26" width="32.90" height="32.90" fill="#424aa5"/>
<text x="1751.00" y="1086.10" font-size="28.50">Deletion</text>
<rect x="1709.70" y="1096.89" width="32.90" height="32.90" fill="#9e9a9a"/>
<text x="1751.00" y="1125.85" font-size="28.50">Multiple variants</text>
</g>
<g id="panelC">
<text transform="translate(0.80,1271.40) scale(0.9579,1)" font-size="41.24" font-weight="bold">C</text>
<text x="579.00" y="1277.00" font-size="28.60" text-anchor="middle">Unsupervised clustering of oncogenic alterations</text>
<path d="M126.82 1304.5V2169.3M267.68 1304.5V2169.3M408.54 1304.5V2169.3M549.40 1304.5V2169.3M690.26 1304.5V2169.3M831.12 1304.5V2169.3M971.98 1304.5V2169.3M103.4 2058.20H996.6M103.4 1777.90H996.6M103.4 1497.60H996.6" stroke="#f1f1f1" stroke-width="4.2" fill="none"/>
<path d="M143.4 1940.1a6.3 6.3 0 1 0 12.6 0a6.3 6.3 0 1 0 -12.6 0M144.6 1946.2a6.3 6.3 0 1 0 12.6 0a6.3 6.3 0 1 0 -12.6 0" fill="#060606"/>
<g fill="#ebebeb"><path d="M175.1 1931.6L172.4 1933.1L170.8 1937.3L170.8 1943.7L170.7 1944.3L170.6 1944.9L170.5 1945.5L170.3 1946.1L170.0 1946.6L164.4 1956.8L164.1 1957.3L163.8 1957.8L163.4 1958.2L158.5 1963.1L155.5 1969.1L155.8 1974.9L158.3 1981.5L158.5 1982.0L158.6 1982.5L158.7 1983.1L158.7 1983.6L158.7 1992.0L158.7 1992.6L158.6 1993.2L158.4 1993.8L158.2 1994.3L158.0 1994.9L157.7 1995.4L155.0 1999.4L155.0 2003.6L157.6 2008.9L164.0 2010.1L164.6 2010.3L165.2 2010.5L165.7 2010.8L166.2 2011.1L166.7 2011.5L167.2 2011.9L167.6 2012.4L168.0 2012.9L168.3 2013.4L170.5 2017.9L174.9 2021.7L182.6 2020.5L185.1 2018.6L185.4 2010.3L185.5 2009.7L185.6 2009.1L188.1 1998.9L187.3 1988.8L187.3 1988.1L187.4 1987.3L189.2 1975.5L189.9 1963.9L185.5 1957.3L185.2 1956.8L184.9 1956.2L184.7 1955.6L184.6 1955.0L184.5 1954.4L184.5 1953.8L184.5 1953.2L184.6 1952.5L184.8 1951.9L185.0 1951.4L185.3 1950.8L185.7 1950.3L186.0 1949.8L186.5 1949.4L190.4 1945.8L190.1 1940.9L188.6 1934.9L181.3 1934.9L180.7 1934.9L180.1 1934.8L179.5 1934.7L179.0 1934.5L178.4 1934.2L177.9 1933.9L177.4 1933.5L175.1 1931.6Z"/><path d="M168.5 1932.2a6.15 6.15 0 1 0 12.3 0a6.15 6.15 0 1 0 -12.3 0M165.8 1934.6a6.15 6.15 0 1 0 12.3 0a6.15 6.15 0 1 0 -12.3 0M164.6 1938.2a6.15 6.15 0 1 0 12.3 0a6.15 6.15 0 1 0 -12.3 0M164.7 1941.2a6.15 6.15 0 1 0 12.3 0a6.15 6.15 0 1 0 -12.3 0M164.5 1944.9a6.15 6.15 0 1 0 12.3 0a6.15 6.15 0 1 0 -12.3 0M162.5 1949.6a6.15 6.15 0 1 0 12.3 0a6.15 6.15 0 1 0 -12.3 0M160.9 1952.5a6.15 6.15 0 1 0 12.3 0a6.15 6.15 0 1 0 -12.3 0M159.3 1955.2a6.15 6.15 0 1 0 12.3 0a6.15 6.15 0 1 0 -12.3 0M157.6 1958.7a6.15 6.15 0 1 0 12.3 0a6.15 6.15 0 1 0 -12.3 0M155.2 1961.0a6.15 6.15 0 1 0 12.3 0a6.15 6.15 0 1 0 -12.3 0M152.2 1963.5a6.15 6.15 0 1 0 12.3 0a6.15 6.15 0 1 0 -12.3 0M150.8 1967.1a6.15 6.15 0 1 0 12.3 0a6.15 6.15 0 1 0 -12.3 0M149.4 1969.4a6.15 6.15 0 1 0 12.3 0a6.15 6.15 0 1 0 -12.3 0M150.0 1974.1a6.15 6.15 0 1 0 12.3 0a6.15 6.15 0 1 0 -12.3 0M151.2 1977.3a6.15 6.15 0 1 0 12.3 0a6.15 6.15 0 1 0 -12.3 0M152.5 1980.6a6.15 6.15 0 1 0 12.3 0a6.15 6.15 0 1 0 -12.3 0M153.1 1983.5a6.15 6.15 0 1 0 12.3 0a6.15 6.15 0 1 0 -12.3 0M153.1 1987.1a6.15 6.15 0 1 0 12.3 0a6.15 6.15 0 1 0 -12.3 0M152.6 1991.8a6.15 6.15 0 1 0 12.3 0a6.15 6.15 0 1 0 -12.3 0M152.3 1994.0a6.15 6.15 0 1 0 12.3 0a6.15 6.15 0 1 0 -12.3 0M149.7 1998.3a6.15 6.15 0 1 0 12.3 0a6.15 6.15 0 1 0 -12.3 0M149.0 2001.2a6.15 6.15 0 1 0 12.3 0a6.15 6.15 0 1 0 -12.3 0M149.5 2004.4a6.15 6.15 0 1 0 12.3 0a6.15 6.15 0 1 0 -12.3 0M151.1 2007.3a6.15 6.15 0 1 0 12.3 0a6.15 6.15 0 1 0 -12.3 0M154.4 2008.8a6.15 6.15 0 1 0 12.3 0a6.15 6.15 0 1 0 -12.3 0M158.1 2009.5a6.15 6.15 0 1 0 12.3 0a6.15 6.15 0 1 0 -12.3 0M161.4 2011.4a6.15 6.15 0 1 0 12.3 0a6.15 6.15 0 1 0 -12.3 0M162.9 2014.9a6.15 6.15 0 1 0 12.3 0a6.15 6.15 0 1 0 -12.3 0M164.9 2017.7a6.15 6.15 0 1 0 12.3 0a6.15 6.15 0 1 0 -12.3 0M167.7 2020.4a6.15 6.15 0 1 0 12.3 0a6.15 6.15 0 1 0 -12.3 0M170.6 2021.3a6.15 6.15 0 1 0 12.3 0a6.15 6.15 0 1 0 -12.3 0M174.4 2020.5a6.15 6.15 0 1 0 12.3 0a6.15 6.15 0 1 0 -12.3 0M176.9 2020.1a6.15 6.15 0 1 0 12.3 0a6.15 6.15 0 1 0 -12.3 0M178.8 2015.8a6.15 6.15 0 1 0 12.3 0a6.15 6.15 0 1 0 -12.3 0M179.0 2013.6a6.15 6.15 0 1 0 12.3 0a6.15 6.15 0 1 0 -12.3 0M179.3 2009.9a6.15 6.15 0 1 0 12.3 0a6.15 6.15 0 1 0 -12.3 0M179.9 2006.1a6.15 6.15 0 1 0 12.3 0a6.15 6.15 0 1 0 -12.3 0M181.2 2002.0a6.15 6.15 0 1 0 12.3 0a6.15 6.15 0 1 0 -12.3 0M182.0 1998.9a6.15 6.15 0 1 0 12.3 0a6.15 6.15 0 1 0 -12.3 0M181.5 1995.0a6.15 6.15 0 1 0 12.3 0a6.15 6.15 0 1 0 -12.3 0M180.9 1990.7a6.15 6.15 0 1 0 12.3 0a6.15 6.15 0 1 0 -12.3 0M180.6 1987.8a6.15 6.15 0 1 0 12.3 0a6.15 6.15 0 1 0 -12.3 0M181.5 1985.0a6.15 6.15 0 1 0 12.3 0a6.15 6.15 0 1 0 -12.3 0M182.2 1980.8a6.15 6.15 0 1 0 12.3 0a6.15 6.15 0 1 0 -12.3 0M182.4 1978.0a6.15 6.15 0 1 0 12.3 0a6.15 6.15 0 1 0 -12.3 0M183.0 1973.6a6.15 6.15 0 1 0 12.3 0a6.15 6.15 0 1 0 -12.3 0M182.8 1971.3a6.15 6.15 0 1 0 12.3 0a6.15 6.15 0 1 0 -12.3 0M183.1 1967.3a6.15 6.15 0 1 0 12.3 0a6.15 6.15 0 1 0 -12.3 0M182.6 1962.6a6.15 6.15 0 1 0 12.3 0a6.15 6.15 0 1 0 -12.3 0M181.0 1960.4a6.15 6.15 0 1 0 12.3 0a6.15 6.15 0 1 0 -12.3 0M178.9 1957.1a6.15 6.15 0 1 0 12.3 0a6.15 6.15 0 1 0 -12.3 0M178.2 1953.8a6.15 6.15 0 1 0 12.3 0a6.15 6.15 0 1 0 -12.3 0M180.0 1949.8a6.15 6.15 0 1 0 12.3 0a6.15 6.15 0 1 0 -12.3 0M182.0 1948.1a6.15 6.15 0 1 0 12.3 0a6.15 6.15 0 1 0 -12.3 0M184.1 1945.5a6.15 6.15 0 1 0 12.3 0a6.15 6.15 0 1 0 -12.3 0M183.7 1940.6a6.15 6.15 0 1 0 12.3 0a6.15 6.15 0 1 0 -12.3 0M183.1 1937.5a6.15 6.15 0 1 0 12.3 0a6.15 6.15 0 1 0 -12.3 0M181.6 1935.3a6.15 6.15 0 1 0 12.3 0a6.15 6.15 0 1 0 -12.3 0M178.7 1935.4a6.15 6.15 0 1 0 12.3 0a6.15 6.15 0 1 0 -12.3 0M174.0 1934.9a6.15 6.15 0 1 0 12.3 0a6.15 6.15 0 1 0 -12.3 0M170.8 1933.5a6.15 6.15 0 1 0 12.3 0a6.15 6.15 0 1 0 -12.3 0"/></g>
<path d="M145.9 1948.4a6.3 6.3 0 1 0 12.6 0a6.3 6.3 0 1 0 -12.6 0" fill="#ebebeb"/>
<g fill="#78503c"><path d="M144.1 1892.6L144.1 1892.6L144.1 1891.9L144.1 1891.7L144.0 1892.1L144.1 1892.6ZM144.4 1894.5L144.6 1896.0L145.2 1898.9L147.8 1899.7L148.4 1899.9L148.9 1900.1L149.4 1900.4L149.9 1900.8L150.3 1901.2L150.6 1901.4L150.3 1901.0L146.1 1897.1L145.6 1896.6L145.2 1896.1L144.9 1895.6L144.6 1895.0L144.4 1894.5ZM152.0 1904.3L152.1 1904.8L152.2 1905.4L152.2 1906.0L151.7 1912.5L151.7 1912.7L151.0 1919.1L152.1 1921.0L154.7 1922.0L154.9 1921.8L154.8 1921.0L154.7 1920.4L154.8 1919.8L154.9 1919.2L155.0 1918.6L155.2 1918.0L155.5 1917.5L155.8 1917.0L156.2 1916.5L157.5 1914.9L158.3 1911.3L157.5 1908.5L153.8 1906.0L153.3 1905.6L152.8 1905.2L152.4 1904.7L152.0 1904.3Z"/><path d="M137.9 1892.5a6.15 6.15 0 1 0 12.3 0a6.15 6.15 0 1 0 -12.3 0M137.9 1892.0a6.15 6.15 0 1 0 12.3 0a6.15 6.15 0 1 0 -12.3 0M138.0 1892.3a6.15 6.15 0 1 0 12.3 0a6.15 6.15 0 1 0 -12.3 0M138.8 1896.4a6.15 6.15 0 1 0 12.3 0a6.15 6.15 0 1 0 -12.3 0M139.3 1898.8a6.15 6.15 0 1 0 12.3 0a6.15 6.15 0 1 0 -12.3 0M141.8 1899.6a6.15 6.15 0 1 0 12.3 0a6.15 6.15 0 1 0 -12.3 0M144.2 1901.2a6.15 6.15 0 1 0 12.3 0a6.15 6.15 0 1 0 -12.3 0M141.6 1898.9a6.15 6.15 0 1 0 12.3 0a6.15 6.15 0 1 0 -12.3 0M139.4 1896.7a6.15 6.15 0 1 0 12.3 0a6.15 6.15 0 1 0 -12.3 0M146.1 1905.7a6.15 6.15 0 1 0 12.3 0a6.15 6.15 0 1 0 -12.3 0M146.0 1908.3a6.15 6.15 0 1 0 12.3 0a6.15 6.15 0 1 0 -12.3 0M146.1 1912.1a6.15 6.15 0 1 0 12.3 0a6.15 6.15 0 1 0 -12.3 0M145.3 1915.1a6.15 6.15 0 1 0 12.3 0a6.15 6.15 0 1 0 -12.3 0M145.2 1917.5a6.15 6.15 0 1 0 12.3 0a6.15 6.15 0 1 0 -12.3 0M145.8 1920.6a6.15 6.15 0 1 0 12.3 0a6.15 6.15 0 1 0 -12.3 0M148.5 1921.9a6.15 6.15 0 1 0 12.3 0a6.15 6.15 0 1 0 -12.3 0M148.9 1917.6a6.15 6.15 0 1 0 12.3 0a6.15 6.15 0 1 0 -12.3 0M150.2 1915.9a6.15 6.15 0 1 0 12.3 0a6.15 6.15 0 1 0 -12.3 0M151.4 1912.8a6.15 6.15 0 1 0 12.3 0a6.15 6.15 0 1 0 -12.3 0M151.2 1910.1a6.15 6.15 0 1 0 12.3 0a6.15 6.15 0 1 0 -12.3 0M150.1 1908.0a6.15 6.15 0 1 0 12.3 0a6.15 6.15 0 1 0 -12.3 0M147.5 1906.2a6.15 6.15 0 1 0 12.3 0a6.15 6.15 0 1 0 -12.3 0"/></g>
<path d="M198.4 1829.8a6.3 6.3 0 1 0 12.6 0a6.3 6.3 0 1 0 -12.6 0M196.4 1831.3a6.3 6.3 0 1 0 12.6 0a6.3 6.3 0 1 0 -12.6 0M193.3 1831.3a6.3 6.3 0 1 0 12.6 0a6.3 6.3 0 1 0 -12.6 0M191.4 1830.3a6.3 6.3 0 1 0 12.6 0a6.3 6.3 0 1 0 -12.6 0M192.1 1827.9a6.3 6.3 0 1 0 12.6 0a6.3 6.3 0 1 0 -12.6 0M195.0 1827.0a6.3 6.3 0 1 0 12.6 0a6.3 6.3 0 1 0 -12.6 0M197.7 1827.8a6.3 6.3 0 1 0 12.6 0a6.3 6.3 0 1 0 -12.6 0M195.2 1829.7a6.3 6.3 0 1 0 12.6 0a6.3 6.3 0 1 0 -12.6 0M193.1 1831.3a6.3 6.3 0 1 0 12.6 0a6.3 6.3 0 1 0 -12.6 0M196.9 1827.8a6.3 6.3 0 1 0 12.6 0a6.3 6.3 0 1 0 -12.6 0M196.3 1836.8a6.3 6.3 0 1 0 12.6 0a6.3 6.3 0 1 0 -12.6 0M195.2 1838.5a6.3 6.3 0 1 0 12.6 0a6.3 6.3 0 1 0 -12.6 0M193.8 1838.6a6.3 6.3 0 1 0 12.6 0a6.3 6.3 0 1 0 -12.6 0M192.2 1837.1a6.3 6.3 0 1 0 12.6 0a6.3 6.3 0 1 0 -12.6 0M192.7 1834.4a6.3 6.3 0 1 0 12.6 0a6.3 6.3 0 1 0 -12.6 0M193.9 1833.6a6.3 6.3 0 1 0 12.6 0a6.3 6.3 0 1 0 -12.6 0M195.7 1834.3a6.3 6.3 0 1 0 12.6 0a6.3 6.3 0 1 0 -12.6 0M195.9 1835.0a6.3 6.3 0 1 0 12.6 0a6.3 6.3 0 1 0 -12.6 0M193.6 1834.2a6.3 6.3 0 1 0 12.6 0a6.3 6.3 0 1 0 -12.6 0M193.3 1836.7a6.3 6.3 0 1 0 12.6 0a6.3 6.3 0 1 0 -12.6 0" fill="#b59786"/>
<path d="M497.6 1771.1a6.3 6.3 0 1 0 12.6 0a6.3 6.3 0 1 0 -12.6 0M496.4 1773.2a6.3 6.3 0 1 0 12.6 0a6.3 6.3 0 1 0 -12.6 0M494.3 1773.4a6.3 6.3 0 1 0 12.6 0a6.3 6.3 0 1 0 -12.6 0M492.4 1771.3a6.3 6.3 0 1 0 12.6 0a6.3 6.3 0 1 0 -12.6 0M492.6 1768.7a6.3 6.3 0 1 0 12.6 0a6.3 6.3 0 1 0 -12.6 0M494.6 1767.3a6.3 6.3 0 1 0 12.6 0a6.3 6.3 0 1 0 -12.6 0M497.2 1768.3a6.3 6.3 0 1 0 12.6 0a6.3 6.3 0 1 0 -12.6 0M495.2 1771.6a6.3 6.3 0 1 0 12.6 0a6.3 6.3 0 1 0 -12.6 0M493.1 1770.7a6.3 6.3 0 1 0 12.6 0a6.3 6.3 0 1 0 -12.6 0M496.8 1768.8a6.3 6.3 0 1 0 12.6 0a6.3 6.3 0 1 0 -12.6 0M499.0 1778.4a6.3 6.3 0 1 0 12.6 0a6.3 6.3 0 1 0 -12.6 0M496.6 1780.6a6.3 6.3 0 1 0 12.6 0a6.3 6.3 0 1 0 -12.6 0M493.6 1780.6a6.3 6.3 0 1 0 12.6 0a6.3 6.3 0 1 0 -12.6 0M490.3 1778.3a6.3 6.3 0 1 0 12.6 0a6.3 6.3 0 1 0 -12.6 0M490.6 1776.1a6.3 6.3 0 1 0 12.6 0a6.3 6.3 0 1 0 -12.6 0M494.5 1774.4a6.3 6.3 0 1 0 12.6 0a6.3 6.3 0 1 0 -12.6 0M498.3 1775.8a6.3 6.3 0 1 0 12.6 0a6.3 6.3 0 1 0 -12.6 0M491.9 1778.7a6.3 6.3 0 1 0 12.6 0a6.3 6.3 0 1 0 -12.6 0M493.4 1780.5a6.3 6.3 0 1 0 12.6 0a6.3 6.3 0 1 0 -12.6 0M498.5 1777.7a6.3 6.3 0 1 0 12.6 0a6.3 6.3 0 1 0 -12.6 0M496.1 1779.0a6.3 6.3 0 1 0 12.6 0a6.3 6.3 0 1 0 -12.6 0" fill="#364a1e"/>
<path d="M547.3 1636.3a6.3 6.3 0 1 0 12.6 0a6.3 6.3 0 1 0 -12.6 0M545.7 1638.4a6.3 6.3 0 1 0 12.6 0a6.3 6.3 0 1 0 -12.6 0M543.0 1638.4a6.3 6.3 0 1 0 12.6 0a6.3 6.3 0 1 0 -12.6 0M541.4 1637.1a6.3 6.3 0 1 0 12.6 0a6.3 6.3 0 1 0 -12.6 0M541.5 1634.9a6.3 6.3 0 1 0 12.6 0a6.3 6.3 0 1 0 -12.6 0M543.6 1633.4a6.3 6.3 0 1 0 12.6 0a6.3 6.3 0 1 0 -12.6 0M546.3 1634.3a6.3 6.3 0 1 0 12.6 0a6.3 6.3 0 1 0 -12.6 0M541.8 1634.5a6.3 6.3 0 1 0 12.6 0a6.3 6.3 0 1 0 -12.6 0M545.0 1638.4a6.3 6.3 0 1 0 12.6 0a6.3 6.3 0 1 0 -12.6 0M544.7 1635.4a6.3 6.3 0 1 0 12.6 0a6.3 6.3 0 1 0 -12.6 0M544.3 1642.3a6.3 6.3 0 1 0 12.6 0a6.3 6.3 0 1 0 -12.6 0M543.4 1644.2a6.3 6.3 0 1 0 12.6 0a6.3 6.3 0 1 0 -12.6 0M542.3 1644.4a6.3 6.3 0 1 0 12.6 0a6.3 6.3 0 1 0 -12.6 0M541.2 1642.4a6.3 6.3 0 1 0 12.6 0a6.3 6.3 0 1 0 -12.6 0M541.3 1640.0a6.3 6.3 0 1 0 12.6 0a6.3 6.3 0 1 0 -12.6 0M542.6 1638.4a6.3 6.3 0 1 0 12.6 0a6.3 6.3 0 1 0 -12.6 0M544.0 1639.3a6.3 6.3 0 1 0 12.6 0a6.3 6.3 0 1 0 -12.6 0M543.3 1641.0a6.3 6.3 0 1 0 12.6 0a6.3 6.3 0 1 0 -12.6 0M542.1 1641.9a6.3 6.3 0 1 0 12.6 0a6.3 6.3 0 1 0 -12.6 0M542.5 1640.2a6.3 6.3 0 1 0 12.6 0a6.3 6.3 0 1 0 -12.6 0" fill="#060606"/>
<path d="M597.7 1610.8a6.3 6.3 0 1 0 12.6 0a6.3 6.3 0 1 0 -12.6 0M596.5 1613.6a6.3 6.3 0 1 0 12.6 0a6.3 6.3 0 1 0 -12.6 0M593.9 1614.5a6.3 6.3 0 1 0 12.6 0a6.3 6.3 0 1 0 -12.6 0M591.5 1611.1a6.3 6.3 0 1 0 12.6 0a6.3 6.3 0 1 0 -12.6 0M592.2 1608.1a6.3 6.3 0 1 0 12.6 0a6.3 6.3 0 1 0 -12.6 0M594.4 1606.5a6.3 6.3 0 1 0 12.6 0a6.3 6.3 0 1 0 -12.6 0M596.7 1607.6a6.3 6.3 0 1 0 12.6 0a6.3 6.3 0 1 0 -12.6 0M592.0 1608.3a6.3 6.3 0 1 0 12.6 0a6.3 6.3 0 1 0 -12.6 0M594.1 1613.9a6.3 6.3 0 1 0 12.6 0a6.3 6.3 0 1 0 -12.6 0M593.9 1607.3a6.3 6.3 0 1 0 12.6 0a6.3 6.3 0 1 0 -12.6 0M594.3 1619.1a6.3 6.3 0 1 0 12.6 0a6.3 6.3 0 1 0 -12.6 0M593.9 1622.1a6.3 6.3 0 1 0 12.6 0a6.3 6.3 0 1 0 -12.6 0M592.8 1622.7a6.3 6.3 0 1 0 12.6 0a6.3 6.3 0 1 0 -12.6 0M592.1 1620.2a6.3 6.3 0 1 0 12.6 0a6.3 6.3 0 1 0 -12.6 0M592.3 1616.4a6.3 6.3 0 1 0 12.6 0a6.3 6.3 0 1 0 -12.6 0M593.3 1614.6a6.3 6.3 0 1 0 12.6 0a6.3 6.3 0 1 0 -12.6 0M594.0 1615.4a6.3 6.3 0 1 0 12.6 0a6.3 6.3 0 1 0 -12.6 0M594.3 1618.6a6.3 6.3 0 1 0 12.6 0a6.3 6.3 0 1 0 -12.6 0M593.4 1620.8a6.3 6.3 0 1 0 12.6 0a6.3 6.3 0 1 0 -12.6 0M594.1 1616.8a6.3 6.3 0 1 0 12.6 0a6.3 6.3 0 1 0 -12.6 0" fill="#deeba3"/>
<path d="M642.2 1619.2a6.3 6.3 0 1 0 12.6 0a6.3 6.3 0 1 0 -12.6 0M640.5 1622.3a6.3 6.3 0 1 0 12.6 0a6.3 6.3 0 1 0 -12.6 0M637.3 1623.3a6.3 6.3 0 1 0 12.6 0a6.3 6.3 0 1 0 -12.6 0M634.1 1619.4a6.3 6.3 0 1 0 12.6 0a6.3 6.3 0 1 0 -12.6 0M635.0 1615.7a6.3 6.3 0 1 0 12.6 0a6.3 6.3 0 1 0 -12.6 0M637.3 1613.6a6.3 6.3 0 1 0 12.6 0a6.3 6.3 0 1 0 -12.6 0M641.3 1615.4a6.3 6.3 0 1 0 12.6 0a6.3 6.3 0 1 0 -12.6 0M640.1 1614.9a6.3 6.3 0 1 0 12.6 0a6.3 6.3 0 1 0 -12.6 0M636.0 1614.5a6.3 6.3 0 1 0 12.6 0a6.3 6.3 0 1 0 -12.6 0M638.3 1622.9a6.3 6.3 0 1 0 12.6 0a6.3 6.3 0 1 0 -12.6 0M639.0 1621.4a6.3 6.3 0 1 0 12.6 0a6.3 6.3 0 1 0 -12.6 0M637.2 1621.1a6.3 6.3 0 1 0 12.6 0a6.3 6.3 0 1 0 -12.6 0M634.9 1616.3a6.3 6.3 0 1 0 12.6 0a6.3 6.3 0 1 0 -12.6 0M647.3 1629.5a6.3 6.3 0 1 0 12.6 0a6.3 6.3 0 1 0 -12.6 0M645.5 1632.3a6.3 6.3 0 1 0 12.6 0a6.3 6.3 0 1 0 -12.6 0M641.2 1633.6a6.3 6.3 0 1 0 12.6 0a6.3 6.3 0 1 0 -12.6 0M636.6 1632.4a6.3 6.3 0 1 0 12.6 0a6.3 6.3 0 1 0 -12.6 0M633.9 1629.9a6.3 6.3 0 1 0 12.6 0a6.3 6.3 0 1 0 -12.6 0M634.4 1625.5a6.3 6.3 0 1 0 12.6 0a6.3 6.3 0 1 0 -12.6 0M637.7 1624.0a6.3 6.3 0 1 0 12.6 0a6.3 6.3 0 1 0 -12.6 0M641.8 1623.6a6.3 6.3 0 1 0 12.6 0a6.3 6.3 0 1 0 -12.6 0M647.3 1626.4a6.3 6.3 0 1 0 12.6 0a6.3 6.3 0 1 0 -12.6 0M642.0 1624.6a6.3 6.3 0 1 0 12.6 0a6.3 6.3 0 1 0 -12.6 0M641.7 1632.6a6.3 6.3 0 1 0 12.6 0a6.3 6.3 0 1 0 -12.6 0M634.3 1628.9a6.3 6.3 0 1 0 12.6 0a6.3 6.3 0 1 0 -12.6 0M640.5 1632.9a6.3 6.3 0 1 0 12.6 0a6.3 6.3 0 1 0 -12.6 0M639.3 1627.4a6.3 6.3 0 1 0 12.6 0a6.3 6.3 0 1 0 -12.6 0M642.6 1624.3a6.3 6.3 0 1 0 12.6 0a6.3 6.3 0 1 0 -12.6 0M641.7 1625.1a6.3 6.3 0 1 0 12.6 0a6.3 6.3 0 1 0 -12.6 0M642.1 1633.3a6.3 6.3 0 1 0 12.6 0a6.3 6.3 0 1 0 -12.6 0M633.8 1629.1a6.3 6.3 0 1 0 12.6 0a6.3 6.3 0 1 0 -12.6 0M642.1 1624.9a6.3 6.3 0 1 0 12.6 0a6.3 6.3 0 1 0 -12.6 0M643.6 1633.2a6.3 6.3 0 1 0 12.6 0a6.3 6.3 0 1 0 -12.6 0M642.2 1638.7a6.3 6.3 0 1 0 12.6 0a6.3 6.3 0 1 0 -12.6 0M641.1 1641.5a6.3 6.3 0 1 0 12.6 0a6.3 6.3 0 1 0 -12.6 0M638.0 1641.9a6.3 6.3 0 1 0 12.6 0a6.3 6.3 0 1 0 -12.6 0M636.1 1639.3a6.3 6.3 0 1 0 12.6 0a6.3 6.3 0 1 0 -12.6 0M636.7 1636.4a6.3 6.3 0 1 0 12.6 0a6.3 6.3 0 1 0 -12.6 0M639.0 1634.5a6.3 6.3 0 1 0 12.6 0a6.3 6.3 0 1 0 -12.6 0M641.3 1635.8a6.3 6.3 0 1 0 12.6 0a6.3 6.3 0 1 0 -12.6 0M639.7 1634.5a6.3 6.3 0 1 0 12.6 0a6.3 6.3 0 1 0 -12.6 0M641.1 1637.0a6.3 6.3 0 1 0 12.6 0a6.3 6.3 0 1 0 -12.6 0M638.8 1636.1a6.3 6.3 0 1 0 12.6 0a6.3 6.3 0 1 0 -12.6 0" fill="#f8df97"/>
<g fill="#ddecf1"><path d="M636.0 1345.7L634.3 1346.3L633.9 1346.8L634.2 1351.3L634.2 1351.9L634.1 1352.5L634.0 1353.1L632.5 1359.0L632.5 1369.8L635.0 1374.4L635.3 1374.9L635.5 1375.5L635.7 1376.1L635.8 1376.7L635.8 1377.3L635.8 1377.9L635.7 1378.5L635.6 1379.1L635.4 1379.6L634.4 1382.2L633.2 1392.7L633.4 1398.2L635.3 1400.6L639.9 1404.1L640.4 1404.4L640.8 1404.8L641.2 1405.3L641.5 1405.8L641.8 1406.3L642.0 1406.8L642.2 1407.3L642.3 1407.9L642.4 1408.5L643.2 1417.5L645.5 1420.0L645.7 1418.9L645.9 1418.3L646.1 1417.7L646.4 1417.2L646.7 1416.6L647.1 1416.1L648.7 1414.4L649.0 1413.5L647.4 1410.7L647.1 1410.1L646.9 1409.5L645.6 1405.5L643.4 1403.1L639.3 1400.2L638.8 1399.8L638.4 1399.3L638.0 1398.9L637.6 1398.4L637.3 1397.8L637.1 1397.3L636.9 1396.7L636.8 1396.1L636.7 1395.5L636.7 1394.8L636.8 1394.2L636.9 1393.6L637.1 1393.0L637.3 1392.5L637.6 1391.9L637.9 1391.4L638.3 1391.0L638.8 1390.5L639.3 1390.1L639.8 1389.8L640.3 1389.5L640.9 1389.3L644.2 1388.2L644.5 1387.3L646.1 1380.6L646.2 1380.0L646.4 1379.5L646.7 1379.0L647.0 1378.5L647.3 1378.0L647.7 1377.6L651.4 1373.9L652.0 1372.4L650.5 1369.6L650.3 1369.0L650.1 1368.5L650.0 1367.9L649.9 1367.3L649.9 1366.7L649.9 1366.1L650.0 1365.5L650.2 1365.0L650.9 1362.5L650.0 1362.4L649.3 1362.3L648.7 1362.2L648.1 1362.0L647.6 1361.7L647.0 1361.4L646.5 1361.0L646.1 1360.6L645.7 1360.1L645.3 1359.6L645.0 1359.1L644.7 1358.5L644.5 1358.0L644.4 1357.3L644.3 1356.7L643.7 1349.0L642.4 1345.2L641.1 1344.4L636.0 1345.7Z"/><path d="M628.9 1346.3a6.15 6.15 0 1 0 12.3 0a6.15 6.15 0 1 0 -12.3 0M627.9 1349.1a6.15 6.15 0 1 0 12.3 0a6.15 6.15 0 1 0 -12.3 0M628.0 1353.5a6.15 6.15 0 1 0 12.3 0a6.15 6.15 0 1 0 -12.3 0M627.1 1356.3a6.15 6.15 0 1 0 12.3 0a6.15 6.15 0 1 0 -12.3 0M626.5 1359.7a6.15 6.15 0 1 0 12.3 0a6.15 6.15 0 1 0 -12.3 0M626.7 1363.2a6.15 6.15 0 1 0 12.3 0a6.15 6.15 0 1 0 -12.3 0M626.4 1367.6a6.15 6.15 0 1 0 12.3 0a6.15 6.15 0 1 0 -12.3 0M627.3 1371.0a6.15 6.15 0 1 0 12.3 0a6.15 6.15 0 1 0 -12.3 0M628.4 1373.2a6.15 6.15 0 1 0 12.3 0a6.15 6.15 0 1 0 -12.3 0M629.9 1376.9a6.15 6.15 0 1 0 12.3 0a6.15 6.15 0 1 0 -12.3 0M629.2 1380.2a6.15 6.15 0 1 0 12.3 0a6.15 6.15 0 1 0 -12.3 0M628.4 1382.5a6.15 6.15 0 1 0 12.3 0a6.15 6.15 0 1 0 -12.3 0M627.9 1387.5a6.15 6.15 0 1 0 12.3 0a6.15 6.15 0 1 0 -12.3 0M627.2 1391.0a6.15 6.15 0 1 0 12.3 0a6.15 6.15 0 1 0 -12.3 0M627.1 1393.4a6.15 6.15 0 1 0 12.3 0a6.15 6.15 0 1 0 -12.3 0M627.7 1398.4a6.15 6.15 0 1 0 12.3 0a6.15 6.15 0 1 0 -12.3 0M629.4 1400.0a6.15 6.15 0 1 0 12.3 0a6.15 6.15 0 1 0 -12.3 0M632.1 1402.4a6.15 6.15 0 1 0 12.3 0a6.15 6.15 0 1 0 -12.3 0M635.0 1405.2a6.15 6.15 0 1 0 12.3 0a6.15 6.15 0 1 0 -12.3 0M636.2 1408.2a6.15 6.15 0 1 0 12.3 0a6.15 6.15 0 1 0 -12.3 0M636.5 1411.5a6.15 6.15 0 1 0 12.3 0a6.15 6.15 0 1 0 -12.3 0M636.9 1415.6a6.15 6.15 0 1 0 12.3 0a6.15 6.15 0 1 0 -12.3 0M638.3 1418.3a6.15 6.15 0 1 0 12.3 0a6.15 6.15 0 1 0 -12.3 0M639.9 1417.3a6.15 6.15 0 1 0 12.3 0a6.15 6.15 0 1 0 -12.3 0M642.3 1414.5a6.15 6.15 0 1 0 12.3 0a6.15 6.15 0 1 0 -12.3 0M641.8 1411.6a6.15 6.15 0 1 0 12.3 0a6.15 6.15 0 1 0 -12.3 0M640.4 1408.4a6.15 6.15 0 1 0 12.3 0a6.15 6.15 0 1 0 -12.3 0M638.9 1404.9a6.15 6.15 0 1 0 12.3 0a6.15 6.15 0 1 0 -12.3 0M637.2 1402.5a6.15 6.15 0 1 0 12.3 0a6.15 6.15 0 1 0 -12.3 0M633.2 1399.9a6.15 6.15 0 1 0 12.3 0a6.15 6.15 0 1 0 -12.3 0M631.4 1398.1a6.15 6.15 0 1 0 12.3 0a6.15 6.15 0 1 0 -12.3 0M630.6 1394.6a6.15 6.15 0 1 0 12.3 0a6.15 6.15 0 1 0 -12.3 0M631.6 1391.7a6.15 6.15 0 1 0 12.3 0a6.15 6.15 0 1 0 -12.3 0M634.7 1389.2a6.15 6.15 0 1 0 12.3 0a6.15 6.15 0 1 0 -12.3 0M638.1 1387.2a6.15 6.15 0 1 0 12.3 0a6.15 6.15 0 1 0 -12.3 0M639.0 1383.8a6.15 6.15 0 1 0 12.3 0a6.15 6.15 0 1 0 -12.3 0M639.6 1381.1a6.15 6.15 0 1 0 12.3 0a6.15 6.15 0 1 0 -12.3 0M640.4 1378.3a6.15 6.15 0 1 0 12.3 0a6.15 6.15 0 1 0 -12.3 0M643.5 1375.5a6.15 6.15 0 1 0 12.3 0a6.15 6.15 0 1 0 -12.3 0M645.3 1373.1a6.15 6.15 0 1 0 12.3 0a6.15 6.15 0 1 0 -12.3 0M643.9 1369.1a6.15 6.15 0 1 0 12.3 0a6.15 6.15 0 1 0 -12.3 0M643.7 1365.3a6.15 6.15 0 1 0 12.3 0a6.15 6.15 0 1 0 -12.3 0M644.5 1362.9a6.15 6.15 0 1 0 12.3 0a6.15 6.15 0 1 0 -12.3 0M640.3 1361.4a6.15 6.15 0 1 0 12.3 0a6.15 6.15 0 1 0 -12.3 0M638.6 1358.7a6.15 6.15 0 1 0 12.3 0a6.15 6.15 0 1 0 -12.3 0M638.0 1355.6a6.15 6.15 0 1 0 12.3 0a6.15 6.15 0 1 0 -12.3 0M637.7 1352.2a6.15 6.15 0 1 0 12.3 0a6.15 6.15 0 1 0 -12.3 0M637.2 1348.4a6.15 6.15 0 1 0 12.3 0a6.15 6.15 0 1 0 -12.3 0M635.9 1345.1a6.15 6.15 0 1 0 12.3 0a6.15 6.15 0 1 0 -12.3 0M632.6 1345.7a6.15 6.15 0 1 0 12.3 0a6.15 6.15 0 1 0 -12.3 0"/></g>
<path d="M829.8 1359.0a6.05 6.05 0 1 0 12.1 0a6.05 6.05 0 1 0 -12.1 0M831.5 1363.5a6.05 6.05 0 1 0 12.1 0a6.05 6.05 0 1 0 -12.1 0M833.1 1368.0a6.05 6.05 0 1 0 12.1 0a6.05 6.05 0 1 0 -12.1 0M831.6 1371.8a6.05 6.05 0 1 0 12.1 0a6.05 6.05 0 1 0 -12.1 0M829.8 1375.2a6.05 6.05 0 1 0 12.1 0a6.05 6.05 0 1 0 -12.1 0" fill="#76972a"/>
<g fill="#76972a"><path d="M856.2 1379.8L856.0 1379.9L855.9 1380.1L856.7 1383.8L856.8 1384.4L856.8 1384.9L856.8 1385.5L856.7 1386.0L855.6 1393.1L855.6 1393.6L854.2 1399.6L854.4 1401.0L856.4 1404.3L856.7 1404.9L857.0 1405.4L857.1 1406.0L857.3 1406.6L858.4 1413.1L859.9 1420.6L862.2 1426.2L865.1 1431.0L868.0 1434.8L868.4 1435.1L870.2 1434.1L870.8 1433.8L871.3 1433.6L871.9 1433.4L872.6 1433.3L873.2 1433.3L875.0 1433.3L875.8 1432.7L876.4 1429.6L876.4 1422.7L875.9 1416.9L875.8 1416.3L875.9 1415.8L875.9 1415.2L876.1 1414.6L877.1 1411.2L875.7 1407.7L875.5 1407.0L875.3 1406.3L874.9 1403.1L873.5 1399.3L873.3 1398.6L873.1 1397.9L872.9 1395.8L870.2 1393.5L869.9 1393.2L868.3 1391.6L868.2 1391.7L867.6 1391.7L867.0 1391.8L866.4 1391.7L865.8 1391.6L865.3 1391.5L864.7 1391.3L864.2 1391.0L863.7 1390.7L863.2 1390.3L862.8 1390.0L862.4 1389.5L862.0 1389.1L861.7 1388.6L861.5 1388.0L859.8 1384.2L859.6 1383.6L859.5 1383.0L859.4 1382.3L859.3 1381.7L859.4 1381.1L859.5 1380.4L859.7 1379.8L859.9 1379.2L861.1 1376.5L860.9 1376.2L858.0 1378.7L857.4 1379.1L856.9 1379.5L856.2 1379.8Z"/><path d="M850.0 1380.9a6.15 6.15 0 1 0 12.3 0a6.15 6.15 0 1 0 -12.3 0M850.7 1384.5a6.15 6.15 0 1 0 12.3 0a6.15 6.15 0 1 0 -12.3 0M850.6 1387.0a6.15 6.15 0 1 0 12.3 0a6.15 6.15 0 1 0 -12.3 0M850.1 1391.4a6.15 6.15 0 1 0 12.3 0a6.15 6.15 0 1 0 -12.3 0M849.3 1395.5a6.15 6.15 0 1 0 12.3 0a6.15 6.15 0 1 0 -12.3 0M848.6 1398.8a6.15 6.15 0 1 0 12.3 0a6.15 6.15 0 1 0 -12.3 0M848.6 1401.5a6.15 6.15 0 1 0 12.3 0a6.15 6.15 0 1 0 -12.3 0M850.9 1404.7a6.15 6.15 0 1 0 12.3 0a6.15 6.15 0 1 0 -12.3 0M851.9 1407.8a6.15 6.15 0 1 0 12.3 0a6.15 6.15 0 1 0 -12.3 0M852.4 1411.2a6.15 6.15 0 1 0 12.3 0a6.15 6.15 0 1 0 -12.3 0M852.9 1415.1a6.15 6.15 0 1 0 12.3 0a6.15 6.15 0 1 0 -12.3 0M853.6 1419.8a6.15 6.15 0 1 0 12.3 0a6.15 6.15 0 1 0 -12.3 0M854.5 1421.3a6.15 6.15 0 1 0 12.3 0a6.15 6.15 0 1 0 -12.3 0M856.0 1425.9a6.15 6.15 0 1 0 12.3 0a6.15 6.15 0 1 0 -12.3 0M858.3 1429.2a6.15 6.15 0 1 0 12.3 0a6.15 6.15 0 1 0 -12.3 0M859.4 1431.3a6.15 6.15 0 1 0 12.3 0a6.15 6.15 0 1 0 -12.3 0M861.6 1434.3a6.15 6.15 0 1 0 12.3 0a6.15 6.15 0 1 0 -12.3 0M865.5 1433.4a6.15 6.15 0 1 0 12.3 0a6.15 6.15 0 1 0 -12.3 0M869.2 1433.0a6.15 6.15 0 1 0 12.3 0a6.15 6.15 0 1 0 -12.3 0M869.8 1430.1a6.15 6.15 0 1 0 12.3 0a6.15 6.15 0 1 0 -12.3 0M870.1 1426.3a6.15 6.15 0 1 0 12.3 0a6.15 6.15 0 1 0 -12.3 0M870.0 1422.3a6.15 6.15 0 1 0 12.3 0a6.15 6.15 0 1 0 -12.3 0M869.9 1419.3a6.15 6.15 0 1 0 12.3 0a6.15 6.15 0 1 0 -12.3 0M869.2 1414.8a6.15 6.15 0 1 0 12.3 0a6.15 6.15 0 1 0 -12.3 0M870.5 1411.1a6.15 6.15 0 1 0 12.3 0a6.15 6.15 0 1 0 -12.3 0M869.8 1408.9a6.15 6.15 0 1 0 12.3 0a6.15 6.15 0 1 0 -12.3 0M868.6 1405.0a6.15 6.15 0 1 0 12.3 0a6.15 6.15 0 1 0 -12.3 0M868.3 1402.4a6.15 6.15 0 1 0 12.3 0a6.15 6.15 0 1 0 -12.3 0M866.9 1398.7a6.15 6.15 0 1 0 12.3 0a6.15 6.15 0 1 0 -12.3 0M865.2 1394.9a6.15 6.15 0 1 0 12.3 0a6.15 6.15 0 1 0 -12.3 0M863.6 1393.7a6.15 6.15 0 1 0 12.3 0a6.15 6.15 0 1 0 -12.3 0M860.0 1392.0a6.15 6.15 0 1 0 12.3 0a6.15 6.15 0 1 0 -12.3 0M857.1 1390.6a6.15 6.15 0 1 0 12.3 0a6.15 6.15 0 1 0 -12.3 0M855.0 1387.6a6.15 6.15 0 1 0 12.3 0a6.15 6.15 0 1 0 -12.3 0M853.8 1384.6a6.15 6.15 0 1 0 12.3 0a6.15 6.15 0 1 0 -12.3 0M853.4 1381.0a6.15 6.15 0 1 0 12.3 0a6.15 6.15 0 1 0 -12.3 0M854.6 1377.5a6.15 6.15 0 1 0 12.3 0a6.15 6.15 0 1 0 -12.3 0M852.7 1378.5a6.15 6.15 0 1 0 12.3 0a6.15 6.15 0 1 0 -12.3 0"/></g>
<g fill="#42446f"><path d="M865.7 1572.2L865.6 1572.4L866.4 1576.1L866.5 1576.7L866.6 1577.4L866.5 1578.0L866.4 1578.7L865.6 1582.7L865.9 1590.2L865.9 1590.7L865.8 1591.3L865.7 1591.8L865.5 1592.4L865.3 1592.9L865.1 1593.4L862.6 1597.9L862.3 1599.8L864.3 1604.3L866.0 1606.4L869.7 1606.2L870.3 1606.2L870.9 1606.2L871.4 1606.4L872.0 1606.5L872.6 1606.7L873.1 1607.0L873.6 1607.3L874.8 1608.2L873.8 1605.6L873.7 1605.0L873.5 1604.5L873.5 1603.9L873.4 1603.4L873.5 1602.8L873.6 1602.2L873.7 1601.7L873.9 1601.1L876.4 1594.9L877.3 1590.0L875.1 1585.6L875.0 1585.3L872.6 1579.9L872.4 1579.3L872.2 1578.7L871.1 1573.9L870.2 1572.7L865.7 1572.2Z"/><path d="M859.6 1573.1a6.15 6.15 0 1 0 12.3 0a6.15 6.15 0 1 0 -12.3 0M860.5 1577.6a6.15 6.15 0 1 0 12.3 0a6.15 6.15 0 1 0 -12.3 0M860.1 1579.9a6.15 6.15 0 1 0 12.3 0a6.15 6.15 0 1 0 -12.3 0M859.5 1583.4a6.15 6.15 0 1 0 12.3 0a6.15 6.15 0 1 0 -12.3 0M859.7 1588.1a6.15 6.15 0 1 0 12.3 0a6.15 6.15 0 1 0 -12.3 0M859.8 1591.3a6.15 6.15 0 1 0 12.3 0a6.15 6.15 0 1 0 -12.3 0M858.7 1594.1a6.15 6.15 0 1 0 12.3 0a6.15 6.15 0 1 0 -12.3 0M856.7 1598.1a6.15 6.15 0 1 0 12.3 0a6.15 6.15 0 1 0 -12.3 0M856.6 1600.3a6.15 6.15 0 1 0 12.3 0a6.15 6.15 0 1 0 -12.3 0M858.3 1603.5a6.15 6.15 0 1 0 12.3 0a6.15 6.15 0 1 0 -12.3 0M861.9 1605.7a6.15 6.15 0 1 0 12.3 0a6.15 6.15 0 1 0 -12.3 0M865.4 1605.9a6.15 6.15 0 1 0 12.3 0a6.15 6.15 0 1 0 -12.3 0M868.4 1607.5a6.15 6.15 0 1 0 12.3 0a6.15 6.15 0 1 0 -12.3 0M867.6 1605.2a6.15 6.15 0 1 0 12.3 0a6.15 6.15 0 1 0 -12.3 0M867.3 1601.3a6.15 6.15 0 1 0 12.3 0a6.15 6.15 0 1 0 -12.3 0M868.7 1598.0a6.15 6.15 0 1 0 12.3 0a6.15 6.15 0 1 0 -12.3 0M869.9 1595.0a6.15 6.15 0 1 0 12.3 0a6.15 6.15 0 1 0 -12.3 0M870.7 1591.6a6.15 6.15 0 1 0 12.3 0a6.15 6.15 0 1 0 -12.3 0M869.4 1587.7a6.15 6.15 0 1 0 12.3 0a6.15 6.15 0 1 0 -12.3 0M867.9 1584.2a6.15 6.15 0 1 0 12.3 0a6.15 6.15 0 1 0 -12.3 0M866.8 1581.7a6.15 6.15 0 1 0 12.3 0a6.15 6.15 0 1 0 -12.3 0M865.9 1578.9a6.15 6.15 0 1 0 12.3 0a6.15 6.15 0 1 0 -12.3 0M865.1 1574.4a6.15 6.15 0 1 0 12.3 0a6.15 6.15 0 1 0 -12.3 0M862.8 1572.9a6.15 6.15 0 1 0 12.3 0a6.15 6.15 0 1 0 -12.3 0"/></g>
<g fill="#ffadb0"><path d="M860.1 1649.0L858.8 1650.1L856.8 1653.0L856.3 1656.9L857.0 1663.9L858.8 1665.3L860.5 1665.5L861.9 1664.3L863.4 1659.2L863.6 1658.6L863.9 1658.0L864.2 1657.5L864.6 1657.0L865.0 1656.6L865.5 1656.2L867.3 1654.7L867.7 1653.1L867.1 1651.7L862.6 1649.4L860.1 1649.0Z"/><path d="M853.9 1649.6a6.15 6.15 0 1 0 12.3 0a6.15 6.15 0 1 0 -12.3 0M851.3 1653.1a6.15 6.15 0 1 0 12.3 0a6.15 6.15 0 1 0 -12.3 0M850.5 1655.6a6.15 6.15 0 1 0 12.3 0a6.15 6.15 0 1 0 -12.3 0M850.8 1659.8a6.15 6.15 0 1 0 12.3 0a6.15 6.15 0 1 0 -12.3 0M851.0 1662.6a6.15 6.15 0 1 0 12.3 0a6.15 6.15 0 1 0 -12.3 0M853.4 1664.9a6.15 6.15 0 1 0 12.3 0a6.15 6.15 0 1 0 -12.3 0M855.8 1663.9a6.15 6.15 0 1 0 12.3 0a6.15 6.15 0 1 0 -12.3 0M857.1 1659.0a6.15 6.15 0 1 0 12.3 0a6.15 6.15 0 1 0 -12.3 0M857.9 1656.9a6.15 6.15 0 1 0 12.3 0a6.15 6.15 0 1 0 -12.3 0M861.2 1653.9a6.15 6.15 0 1 0 12.3 0a6.15 6.15 0 1 0 -12.3 0M859.6 1651.5a6.15 6.15 0 1 0 12.3 0a6.15 6.15 0 1 0 -12.3 0M857.1 1650.2a6.15 6.15 0 1 0 12.3 0a6.15 6.15 0 1 0 -12.3 0"/></g>
<path d="M635.3 1791.3a6.3 6.3 0 1 0 12.6 0a6.3 6.3 0 1 0 -12.6 0M634.0 1793.3a6.3 6.3 0 1 0 12.6 0a6.3 6.3 0 1 0 -12.6 0M631.8 1793.3a6.3 6.3 0 1 0 12.6 0a6.3 6.3 0 1 0 -12.6 0M630.8 1790.9a6.3 6.3 0 1 0 12.6 0a6.3 6.3 0 1 0 -12.6 0M631.4 1788.4a6.3 6.3 0 1 0 12.6 0a6.3 6.3 0 1 0 -12.6 0M632.6 1787.2a6.3 6.3 0 1 0 12.6 0a6.3 6.3 0 1 0 -12.6 0M634.8 1788.3a6.3 6.3 0 1 0 12.6 0a6.3 6.3 0 1 0 -12.6 0M631.9 1788.5a6.3 6.3 0 1 0 12.6 0a6.3 6.3 0 1 0 -12.6 0M634.4 1788.5a6.3 6.3 0 1 0 12.6 0a6.3 6.3 0 1 0 -12.6 0M635.0 1790.4a6.3 6.3 0 1 0 12.6 0a6.3 6.3 0 1 0 -12.6 0M639.2 1799.4a6.3 6.3 0 1 0 12.6 0a6.3 6.3 0 1 0 -12.6 0M637.6 1803.8a6.3 6.3 0 1 0 12.6 0a6.3 6.3 0 1 0 -12.6 0M634.3 1804.1a6.3 6.3 0 1 0 12.6 0a6.3 6.3 0 1 0 -12.6 0M632.5 1800.4a6.3 6.3 0 1 0 12.6 0a6.3 6.3 0 1 0 -12.6 0M632.9 1795.7a6.3 6.3 0 1 0 12.6 0a6.3 6.3 0 1 0 -12.6 0M635.8 1793.9a6.3 6.3 0 1 0 12.6 0a6.3 6.3 0 1 0 -12.6 0M638.2 1795.5a6.3 6.3 0 1 0 12.6 0a6.3 6.3 0 1 0 -12.6 0M637.1 1801.5a6.3 6.3 0 1 0 12.6 0a6.3 6.3 0 1 0 -12.6 0M634.1 1798.9a6.3 6.3 0 1 0 12.6 0a6.3 6.3 0 1 0 -12.6 0M635.5 1802.9a6.3 6.3 0 1 0 12.6 0a6.3 6.3 0 1 0 -12.6 0M636.1 1797.9a6.3 6.3 0 1 0 12.6 0a6.3 6.3 0 1 0 -12.6 0M635.7 1795.3a6.3 6.3 0 1 0 12.6 0a6.3 6.3 0 1 0 -12.6 0" fill="#e3c1dc"/>
<path d="M643.3 1876.7a6.3 6.3 0 1 0 12.6 0a6.3 6.3 0 1 0 -12.6 0M642.2 1878.3a6.3 6.3 0 1 0 12.6 0a6.3 6.3 0 1 0 -12.6 0M640.2 1878.4a6.3 6.3 0 1 0 12.6 0a6.3 6.3 0 1 0 -12.6 0M638.9 1877.2a6.3 6.3 0 1 0 12.6 0a6.3 6.3 0 1 0 -12.6 0M638.9 1875.6a6.3 6.3 0 1 0 12.6 0a6.3 6.3 0 1 0 -12.6 0M640.7 1874.3a6.3 6.3 0 1 0 12.6 0a6.3 6.3 0 1 0 -12.6 0M642.8 1875.2a6.3 6.3 0 1 0 12.6 0a6.3 6.3 0 1 0 -12.6 0M639.8 1878.2a6.3 6.3 0 1 0 12.6 0a6.3 6.3 0 1 0 -12.6 0M642.5 1877.2a6.3 6.3 0 1 0 12.6 0a6.3 6.3 0 1 0 -12.6 0M638.7 1876.3a6.3 6.3 0 1 0 12.6 0a6.3 6.3 0 1 0 -12.6 0M644.5 1885.6a6.3 6.3 0 1 0 12.6 0a6.3 6.3 0 1 0 -12.6 0M643.6 1887.3a6.3 6.3 0 1 0 12.6 0a6.3 6.3 0 1 0 -12.6 0M641.7 1887.6a6.3 6.3 0 1 0 12.6 0a6.3 6.3 0 1 0 -12.6 0M640.2 1886.0a6.3 6.3 0 1 0 12.6 0a6.3 6.3 0 1 0 -12.6 0M640.6 1883.6a6.3 6.3 0 1 0 12.6 0a6.3 6.3 0 1 0 -12.6 0M642.0 1882.3a6.3 6.3 0 1 0 12.6 0a6.3 6.3 0 1 0 -12.6 0M644.0 1883.6a6.3 6.3 0 1 0 12.6 0a6.3 6.3 0 1 0 -12.6 0M643.6 1885.2a6.3 6.3 0 1 0 12.6 0a6.3 6.3 0 1 0 -12.6 0M641.1 1883.2a6.3 6.3 0 1 0 12.6 0a6.3 6.3 0 1 0 -12.6 0M641.4 1884.9a6.3 6.3 0 1 0 12.6 0a6.3 6.3 0 1 0 -12.6 0" fill="#9cc3c7"/>
<path d="M683.1 1852.4a6.3 6.3 0 1 0 12.6 0a6.3 6.3 0 1 0 -12.6 0M681.0 1855.3a6.3 6.3 0 1 0 12.6 0a6.3 6.3 0 1 0 -12.6 0M678.2 1855.1a6.3 6.3 0 1 0 12.6 0a6.3 6.3 0 1 0 -12.6 0M676.2 1852.8a6.3 6.3 0 1 0 12.6 0a6.3 6.3 0 1 0 -12.6 0M676.5 1850.1a6.3 6.3 0 1 0 12.6 0a6.3 6.3 0 1 0 -12.6 0M679.7 1848.0a6.3 6.3 0 1 0 12.6 0a6.3 6.3 0 1 0 -12.6 0M682.3 1849.2a6.3 6.3 0 1 0 12.6 0a6.3 6.3 0 1 0 -12.6 0M681.2 1852.3a6.3 6.3 0 1 0 12.6 0a6.3 6.3 0 1 0 -12.6 0M680.0 1854.8a6.3 6.3 0 1 0 12.6 0a6.3 6.3 0 1 0 -12.6 0M680.7 1850.3a6.3 6.3 0 1 0 12.6 0a6.3 6.3 0 1 0 -12.6 0M679.5 1855.7a6.3 6.3 0 1 0 12.6 0a6.3 6.3 0 1 0 -12.6 0M685.9 1858.1a6.3 6.3 0 1 0 12.6 0a6.3 6.3 0 1 0 -12.6 0M683.6 1861.1a6.3 6.3 0 1 0 12.6 0a6.3 6.3 0 1 0 -12.6 0M681.2 1861.5a6.3 6.3 0 1 0 12.6 0a6.3 6.3 0 1 0 -12.6 0M678.7 1859.4a6.3 6.3 0 1 0 12.6 0a6.3 6.3 0 1 0 -12.6 0M679.0 1856.2a6.3 6.3 0 1 0 12.6 0a6.3 6.3 0 1 0 -12.6 0M681.7 1854.6a6.3 6.3 0 1 0 12.6 0a6.3 6.3 0 1 0 -12.6 0M685.3 1855.9a6.3 6.3 0 1 0 12.6 0a6.3 6.3 0 1 0 -12.6 0M682.6 1861.4a6.3 6.3 0 1 0 12.6 0a6.3 6.3 0 1 0 -12.6 0M682.3 1857.0a6.3 6.3 0 1 0 12.6 0a6.3 6.3 0 1 0 -12.6 0M680.2 1860.1a6.3 6.3 0 1 0 12.6 0a6.3 6.3 0 1 0 -12.6 0M679.6 1858.8a6.3 6.3 0 1 0 12.6 0a6.3 6.3 0 1 0 -12.6 0M679.2 1865.1a6.3 6.3 0 1 0 12.6 0a6.3 6.3 0 1 0 -12.6 0M678.3 1867.1a6.3 6.3 0 1 0 12.6 0a6.3 6.3 0 1 0 -12.6 0M675.7 1867.4a6.3 6.3 0 1 0 12.6 0a6.3 6.3 0 1 0 -12.6 0M674.7 1865.6a6.3 6.3 0 1 0 12.6 0a6.3 6.3 0 1 0 -12.6 0M674.8 1862.7a6.3 6.3 0 1 0 12.6 0a6.3 6.3 0 1 0 -12.6 0M676.3 1861.6a6.3 6.3 0 1 0 12.6 0a6.3 6.3 0 1 0 -12.6 0M678.6 1862.4a6.3 6.3 0 1 0 12.6 0a6.3 6.3 0 1 0 -12.6 0M675.7 1865.5a6.3 6.3 0 1 0 12.6 0a6.3 6.3 0 1 0 -12.6 0M678.0 1863.3a6.3 6.3 0 1 0 12.6 0a6.3 6.3 0 1 0 -12.6 0M677.2 1865.8a6.3 6.3 0 1 0 12.6 0a6.3 6.3 0 1 0 -12.6 0" fill="#a46f93"/>
<path d="M640.9 1865.2a6.1 6.1 0 1 0 12.2 0a6.1 6.1 0 1 0 -12.2 0M642.3 1850.8a6.1 6.1 0 1 0 12.2 0a6.1 6.1 0 1 0 -12.2 0M646.4 1844.5a6.1 6.1 0 1 0 12.2 0a6.1 6.1 0 1 0 -12.2 0M645.0 1857.7a6.1 6.1 0 1 0 12.2 0a6.1 6.1 0 1 0 -12.2 0M649.9 1861.0a6.1 6.1 0 1 0 12.2 0a6.1 6.1 0 1 0 -12.2 0M655.9 1862.0a6.1 6.1 0 1 0 12.2 0a6.1 6.1 0 1 0 -12.2 0M661.9 1866.0a6.1 6.1 0 1 0 12.2 0a6.1 6.1 0 1 0 -12.2 0M665.5 1867.3a6.1 6.1 0 1 0 12.2 0a6.1 6.1 0 1 0 -12.2 0M666.9 1861.1a6.1 6.1 0 1 0 12.2 0a6.1 6.1 0 1 0 -12.2 0M669.0 1854.2a6.1 6.1 0 1 0 12.2 0a6.1 6.1 0 1 0 -12.2 0M657.9 1872.0a6.1 6.1 0 1 0 12.2 0a6.1 6.1 0 1 0 -12.2 0M662.1 1875.5a6.1 6.1 0 1 0 12.2 0a6.1 6.1 0 1 0 -12.2 0M656.6 1878.9a6.1 6.1 0 1 0 12.2 0a6.1 6.1 0 1 0 -12.2 0M654.6 1882.3a6.1 6.1 0 1 0 12.2 0a6.1 6.1 0 1 0 -12.2 0M653.9 1852.0a6.1 6.1 0 1 0 12.2 0a6.1 6.1 0 1 0 -12.2 0M659.9 1856.0a6.1 6.1 0 1 0 12.2 0a6.1 6.1 0 1 0 -12.2 0M648.9 1850.0a6.1 6.1 0 1 0 12.2 0a6.1 6.1 0 1 0 -12.2 0" fill="#060606"/>
<path d="M656.1 1834.0a6.3 6.3 0 1 0 12.6 0a6.3 6.3 0 1 0 -12.6 0M654.4 1837.0a6.3 6.3 0 1 0 12.6 0a6.3 6.3 0 1 0 -12.6 0M650.8 1837.3a6.3 6.3 0 1 0 12.6 0a6.3 6.3 0 1 0 -12.6 0M648.4 1834.9a6.3 6.3 0 1 0 12.6 0a6.3 6.3 0 1 0 -12.6 0M648.7 1831.9a6.3 6.3 0 1 0 12.6 0a6.3 6.3 0 1 0 -12.6 0M652.1 1830.0a6.3 6.3 0 1 0 12.6 0a6.3 6.3 0 1 0 -12.6 0M655.2 1831.5a6.3 6.3 0 1 0 12.6 0a6.3 6.3 0 1 0 -12.6 0M650.0 1831.8a6.3 6.3 0 1 0 12.6 0a6.3 6.3 0 1 0 -12.6 0M654.2 1834.4a6.3 6.3 0 1 0 12.6 0a6.3 6.3 0 1 0 -12.6 0M649.7 1835.2a6.3 6.3 0 1 0 12.6 0a6.3 6.3 0 1 0 -12.6 0M649.8 1832.2a6.3 6.3 0 1 0 12.6 0a6.3 6.3 0 1 0 -12.6 0M661.2 1841.8a6.3 6.3 0 1 0 12.6 0a6.3 6.3 0 1 0 -12.6 0M659.4 1846.0a6.3 6.3 0 1 0 12.6 0a6.3 6.3 0 1 0 -12.6 0M655.1 1846.6a6.3 6.3 0 1 0 12.6 0a6.3 6.3 0 1 0 -12.6 0M652.6 1843.2a6.3 6.3 0 1 0 12.6 0a6.3 6.3 0 1 0 -12.6 0M653.0 1838.7a6.3 6.3 0 1 0 12.6 0a6.3 6.3 0 1 0 -12.6 0M656.0 1836.7a6.3 6.3 0 1 0 12.6 0a6.3 6.3 0 1 0 -12.6 0M660.7 1838.6a6.3 6.3 0 1 0 12.6 0a6.3 6.3 0 1 0 -12.6 0M658.6 1843.2a6.3 6.3 0 1 0 12.6 0a6.3 6.3 0 1 0 -12.6 0M653.6 1838.6a6.3 6.3 0 1 0 12.6 0a6.3 6.3 0 1 0 -12.6 0M658.7 1841.1a6.3 6.3 0 1 0 12.6 0a6.3 6.3 0 1 0 -12.6 0M655.9 1841.6a6.3 6.3 0 1 0 12.6 0a6.3 6.3 0 1 0 -12.6 0M653.0 1844.1a6.3 6.3 0 1 0 12.6 0a6.3 6.3 0 1 0 -12.6 0M657.7 1842.2a6.3 6.3 0 1 0 12.6 0a6.3 6.3 0 1 0 -12.6 0M655.3 1845.2a6.3 6.3 0 1 0 12.6 0a6.3 6.3 0 1 0 -12.6 0" fill="#542344"/>
<path d="M949.1 1929.2a6.3 6.3 0 1 0 12.6 0a6.3 6.3 0 1 0 -12.6 0M947.8 1931.2a6.3 6.3 0 1 0 12.6 0a6.3 6.3 0 1 0 -12.6 0M945.5 1931.2a6.3 6.3 0 1 0 12.6 0a6.3 6.3 0 1 0 -12.6 0M943.6 1929.7a6.3 6.3 0 1 0 12.6 0a6.3 6.3 0 1 0 -12.6 0M943.9 1927.2a6.3 6.3 0 1 0 12.6 0a6.3 6.3 0 1 0 -12.6 0M946.0 1925.7a6.3 6.3 0 1 0 12.6 0a6.3 6.3 0 1 0 -12.6 0M948.3 1926.4a6.3 6.3 0 1 0 12.6 0a6.3 6.3 0 1 0 -12.6 0M945.3 1929.1a6.3 6.3 0 1 0 12.6 0a6.3 6.3 0 1 0 -12.6 0M944.6 1928.9a6.3 6.3 0 1 0 12.6 0a6.3 6.3 0 1 0 -12.6 0M945.7 1930.1a6.3 6.3 0 1 0 12.6 0a6.3 6.3 0 1 0 -12.6 0M949.6 1936.7a6.3 6.3 0 1 0 12.6 0a6.3 6.3 0 1 0 -12.6 0M948.5 1938.6a6.3 6.3 0 1 0 12.6 0a6.3 6.3 0 1 0 -12.6 0M945.7 1939.0a6.3 6.3 0 1 0 12.6 0a6.3 6.3 0 1 0 -12.6 0M944.2 1936.8a6.3 6.3 0 1 0 12.6 0a6.3 6.3 0 1 0 -12.6 0M944.9 1933.7a6.3 6.3 0 1 0 12.6 0a6.3 6.3 0 1 0 -12.6 0M946.9 1932.6a6.3 6.3 0 1 0 12.6 0a6.3 6.3 0 1 0 -12.6 0M948.8 1933.4a6.3 6.3 0 1 0 12.6 0a6.3 6.3 0 1 0 -12.6 0M948.2 1938.1a6.3 6.3 0 1 0 12.6 0a6.3 6.3 0 1 0 -12.6 0M946.3 1933.3a6.3 6.3 0 1 0 12.6 0a6.3 6.3 0 1 0 -12.6 0M947.6 1933.1a6.3 6.3 0 1 0 12.6 0a6.3 6.3 0 1 0 -12.6 0" fill="#ab321a"/>
<g fill="#e08837"><path d="M823.1 2061.8L822.9 2062.3L822.9 2066.4L822.8 2067.1L822.7 2067.9L821.5 2072.7L822.5 2076.0L822.7 2076.6L822.8 2077.2L822.9 2077.8L822.8 2078.4L822.8 2079.0L822.6 2079.6L822.4 2080.2L822.2 2080.7L821.9 2081.3L821.5 2081.8L821.1 2082.2L820.7 2082.6L820.2 2083.0L819.6 2083.3L819.1 2083.6L818.5 2083.8L817.9 2083.9L817.3 2084.0L816.7 2084.1L814.5 2084.1L813.1 2084.8L812.2 2087.9L812.0 2088.5L811.7 2089.0L811.4 2089.6L811.0 2090.1L810.6 2090.5L807.5 2093.6L805.2 2096.2L804.4 2099.2L805.2 2101.4L807.9 2105.0L808.2 2105.5L808.5 2106.0L808.7 2106.5L808.9 2107.0L809.0 2107.6L809.1 2108.2L809.1 2108.7L809.1 2109.3L808.3 2116.7L809.0 2120.9L809.1 2121.4L809.1 2122.0L809.1 2122.6L809.0 2123.2L808.8 2123.7L808.6 2124.3L807.6 2126.6L807.7 2127.3L808.3 2127.7L814.9 2129.2L819.2 2129.6L819.2 2129.6L819.4 2128.2L819.5 2127.5L820.6 2123.1L819.9 2117.7L819.9 2117.1L819.9 2116.4L820.0 2115.8L820.1 2115.2L820.3 2114.6L820.6 2114.0L820.9 2113.5L823.7 2109.4L824.7 2105.5L824.0 2099.8L821.9 2096.6L821.6 2096.0L821.4 2095.4L821.2 2094.9L821.1 2094.3L821.0 2093.6L821.0 2093.0L821.1 2092.4L821.2 2091.8L821.4 2091.2L821.6 2090.6L821.9 2090.1L822.2 2089.6L822.6 2089.1L824.4 2087.2L824.4 2087.1L823.1 2084.2L822.9 2083.7L822.8 2083.1L822.7 2082.6L822.6 2082.0L822.6 2081.4L822.7 2080.9L823.8 2073.2L823.9 2072.7L824.0 2072.3L825.3 2068.0L825.0 2064.8L823.6 2062.1L823.1 2061.8Z"/><path d="M816.6 2063.9a6.15 6.15 0 1 0 12.3 0a6.15 6.15 0 1 0 -12.3 0M816.6 2067.5a6.15 6.15 0 1 0 12.3 0a6.15 6.15 0 1 0 -12.3 0M816.0 2070.0a6.15 6.15 0 1 0 12.3 0a6.15 6.15 0 1 0 -12.3 0M815.7 2074.8a6.15 6.15 0 1 0 12.3 0a6.15 6.15 0 1 0 -12.3 0M816.6 2077.2a6.15 6.15 0 1 0 12.3 0a6.15 6.15 0 1 0 -12.3 0M816.0 2081.1a6.15 6.15 0 1 0 12.3 0a6.15 6.15 0 1 0 -12.3 0M814.2 2083.0a6.15 6.15 0 1 0 12.3 0a6.15 6.15 0 1 0 -12.3 0M809.4 2084.4a6.15 6.15 0 1 0 12.3 0a6.15 6.15 0 1 0 -12.3 0M807.2 2084.9a6.15 6.15 0 1 0 12.3 0a6.15 6.15 0 1 0 -12.3 0M805.5 2089.4a6.15 6.15 0 1 0 12.3 0a6.15 6.15 0 1 0 -12.3 0M803.8 2091.7a6.15 6.15 0 1 0 12.3 0a6.15 6.15 0 1 0 -12.3 0M800.9 2094.7a6.15 6.15 0 1 0 12.3 0a6.15 6.15 0 1 0 -12.3 0M799.4 2096.5a6.15 6.15 0 1 0 12.3 0a6.15 6.15 0 1 0 -12.3 0M798.5 2099.7a6.15 6.15 0 1 0 12.3 0a6.15 6.15 0 1 0 -12.3 0M800.8 2103.1a6.15 6.15 0 1 0 12.3 0a6.15 6.15 0 1 0 -12.3 0M802.9 2106.1a6.15 6.15 0 1 0 12.3 0a6.15 6.15 0 1 0 -12.3 0M803.0 2109.6a6.15 6.15 0 1 0 12.3 0a6.15 6.15 0 1 0 -12.3 0M802.9 2112.6a6.15 6.15 0 1 0 12.3 0a6.15 6.15 0 1 0 -12.3 0M802.5 2118.0a6.15 6.15 0 1 0 12.3 0a6.15 6.15 0 1 0 -12.3 0M802.8 2120.6a6.15 6.15 0 1 0 12.3 0a6.15 6.15 0 1 0 -12.3 0M802.3 2124.7a6.15 6.15 0 1 0 12.3 0a6.15 6.15 0 1 0 -12.3 0M801.9 2127.0a6.15 6.15 0 1 0 12.3 0a6.15 6.15 0 1 0 -12.3 0M806.1 2128.3a6.15 6.15 0 1 0 12.3 0a6.15 6.15 0 1 0 -12.3 0M808.8 2128.8a6.15 6.15 0 1 0 12.3 0a6.15 6.15 0 1 0 -12.3 0M813.0 2129.2a6.15 6.15 0 1 0 12.3 0a6.15 6.15 0 1 0 -12.3 0M813.5 2125.9a6.15 6.15 0 1 0 12.3 0a6.15 6.15 0 1 0 -12.3 0M814.2 2121.3a6.15 6.15 0 1 0 12.3 0a6.15 6.15 0 1 0 -12.3 0M813.7 2117.5a6.15 6.15 0 1 0 12.3 0a6.15 6.15 0 1 0 -12.3 0M813.9 2115.4a6.15 6.15 0 1 0 12.3 0a6.15 6.15 0 1 0 -12.3 0M815.7 2111.5a6.15 6.15 0 1 0 12.3 0a6.15 6.15 0 1 0 -12.3 0M817.0 2108.6a6.15 6.15 0 1 0 12.3 0a6.15 6.15 0 1 0 -12.3 0M818.4 2104.7a6.15 6.15 0 1 0 12.3 0a6.15 6.15 0 1 0 -12.3 0M818.0 2101.0a6.15 6.15 0 1 0 12.3 0a6.15 6.15 0 1 0 -12.3 0M816.6 2098.2a6.15 6.15 0 1 0 12.3 0a6.15 6.15 0 1 0 -12.3 0M814.7 2095.3a6.15 6.15 0 1 0 12.3 0a6.15 6.15 0 1 0 -12.3 0M814.9 2092.0a6.15 6.15 0 1 0 12.3 0a6.15 6.15 0 1 0 -12.3 0M816.3 2089.5a6.15 6.15 0 1 0 12.3 0a6.15 6.15 0 1 0 -12.3 0M817.7 2086.4a6.15 6.15 0 1 0 12.3 0a6.15 6.15 0 1 0 -12.3 0M816.5 2082.3a6.15 6.15 0 1 0 12.3 0a6.15 6.15 0 1 0 -12.3 0M817.0 2077.9a6.15 6.15 0 1 0 12.3 0a6.15 6.15 0 1 0 -12.3 0M817.4 2075.2a6.15 6.15 0 1 0 12.3 0a6.15 6.15 0 1 0 -12.3 0M818.2 2071.0a6.15 6.15 0 1 0 12.3 0a6.15 6.15 0 1 0 -12.3 0M819.0 2068.4a6.15 6.15 0 1 0 12.3 0a6.15 6.15 0 1 0 -12.3 0M818.6 2064.8a6.15 6.15 0 1 0 12.3 0a6.15 6.15 0 1 0 -12.3 0"/></g>
<text transform="translate(555.50,1333.60) scale(0.9579,1)" font-size="29.65" font-weight="bold" fill="#c2d2da">TP53</text>
<text transform="translate(665.00,1477.00) scale(0.9579,1)" font-size="29.65" font-weight="bold" fill="#76972a">MDM2–CDK4</text>
<text transform="translate(690.80,1558.00) scale(0.9579,1)" font-size="29.65" font-weight="bold" fill="#42446f">CDKN2A/B</text>
<text transform="translate(321.00,1587.00) scale(0.9579,1)" font-size="29.65" font-weight="bold" fill="#deeba3">SMARCB1 (EPIS)</text>
<text transform="translate(664.50,1615.60) scale(0.9579,1)" font-size="29.65" font-weight="bold" fill="#fbd85e" letter-spacing="2.3">TERT</text>
<text transform="translate(495.80,1675.60) scale(0.9579,1)" font-size="29.65" font-weight="bold">NA</text>
<text transform="translate(634.00,1706.50) scale(0.9579,1)" font-size="29.65" font-weight="bold" fill="#ffadb0">KIT–CDKN2A/B</text>
<text transform="translate(282.00,1750.00) scale(0.9579,1)" font-size="29.65" font-weight="bold" fill="#364a1e">WT1 (DSRCT)</text>
<text transform="translate(204.60,1815.00) scale(0.9579,1)" font-size="29.65" font-weight="bold" fill="#b59786">NF1</text>
<text transform="translate(449.00,1837.00) scale(0.9579,1)" font-size="29.65" font-weight="bold" fill="#e3c1dc">TP53– ATRX</text>
<text transform="translate(665.30,1820.00) scale(0.9579,1)" font-size="29.65" font-weight="bold" fill="#542344">TP53– ATRX–RB1</text>
<text transform="translate(156.40,1887.80) scale(0.9579,1)" font-size="29.65" font-weight="bold" fill="#78503c">MYC</text>
<text transform="translate(706.30,1877.20) scale(0.9579,1)" font-size="29.65" font-weight="bold" fill="#a46f93">TP53–RB1</text>
<text transform="translate(573.30,1915.00) scale(0.9579,1)" font-size="29.65" font-weight="bold" fill="#8cc0cb">RB1</text>
<text transform="translate(664.60,1915.00) scale(0.9579,1)" font-size="29.65" font-weight="bold">NA</text>
<clipPath id="cpP"><rect x="790" y="1880" width="126.8" height="60"/></clipPath>
<g clip-path="url(#cpP)">
<text transform="translate(801.80,1919.20) scale(0.9579,1)" font-size="29.65" font-weight="bold" fill="#b03a22">PDGFRA</text>
</g>
<text transform="translate(197.00,2048.60) scale(0.9579,1)" font-size="29.65" font-weight="bold" fill="#b4b2b2">OTHER</text>
<text transform="translate(763.40,2053.00) scale(0.9579,1)" font-size="29.65" font-weight="bold" fill="#e08837">KIT</text>
<line x1="103.40" y1="1304.50" x2="103.40" y2="2171.50" stroke="#000" stroke-width="4.4"/>
<line x1="101.20" y1="2169.30" x2="996.60" y2="2169.30" stroke="#000" stroke-width="4.4"/>
<line x1="126.82" y1="2169.30" x2="126.82" y2="2178.10" stroke="#262626" stroke-width="4.3"/>
<text transform="translate(123.42,2207.20) scale(0.9579,1)" font-size="30.28" text-anchor="middle" fill="#1a1a1a">−30</text>
<line x1="267.68" y1="2169.30" x2="267.68" y2="2178.10" stroke="#262626" stroke-width="4.3"/>
<text transform="translate(264.28,2207.20) scale(0.9579,1)" font-size="30.28" text-anchor="middle" fill="#1a1a1a">−20</text>
<line x1="408.54" y1="2169.30" x2="408.54" y2="2178.10" stroke="#262626" stroke-width="4.3"/>
<text transform="translate(405.14,2207.20) scale(0.9579,1)" font-size="30.28" text-anchor="middle" fill="#1a1a1a">−10</text>
<line x1="549.40" y1="2169.30" x2="549.40" y2="2178.10" stroke="#262626" stroke-width="4.3"/>
<text transform="translate(546.00,2207.20) scale(0.9579,1)" font-size="30.28" text-anchor="middle" fill="#1a1a1a">0</text>
<line x1="690.26" y1="2169.30" x2="690.26" y2="2178.10" stroke="#262626" stroke-width="4.3"/>
<text transform="translate(686.86,2207.20) scale(0.9579,1)" font-size="30.28" text-anchor="middle" fill="#1a1a1a">10</text>
<line x1="831.12" y1="2169.30" x2="831.12" y2="2178.10" stroke="#262626" stroke-width="4.3"/>
<text transform="translate(827.72,2207.20) scale(0.9579,1)" font-size="30.28" text-anchor="middle" fill="#1a1a1a">20</text>
<line x1="971.98" y1="2169.30" x2="971.98" y2="2178.10" stroke="#262626" stroke-width="4.3"/>
<text transform="translate(968.58,2207.20) scale(0.9579,1)" font-size="30.28" text-anchor="middle" fill="#1a1a1a">30</text>
<line x1="94.40" y1="2058.20" x2="103.40" y2="2058.20" stroke="#262626" stroke-width="4.3"/>
<text transform="translate(87.60,2070.10) scale(0.9579,1)" font-size="30.28" text-anchor="end" fill="#1a1a1a">−10</text>
<line x1="94.40" y1="1777.90" x2="103.40" y2="1777.90" stroke="#262626" stroke-width="4.3"/>
<text transform="translate(87.60,1789.80) scale(0.9579,1)" font-size="30.28" text-anchor="end" fill="#1a1a1a">0</text>
<line x1="94.40" y1="1497.60" x2="103.40" y2="1497.60" stroke="#262626" stroke-width="4.3"/>
<text transform="translate(87.60,1509.50) scale(0.9579,1)" font-size="30.28" text-anchor="end" fill="#1a1a1a">10</text>
<text transform="translate(560.50,2244.30) scale(0.9579,1)" font-size="30.07" text-anchor="middle">UMAP 1</text>
<text transform="translate(47.40,1735.50) rotate(-90) scale(0.9579,1)" font-size="29.86" text-anchor="middle">UMAP 2</text>
</g>
<g id="panelD">
<text transform="translate(1037.60,1270.70) scale(0.9579,1)" font-size="40.19" font-weight="bold">D</text>
<path d="M1290.87 1237V2174M1315.14 1237V2174M1339.41 1237V2174M1363.68 1237V2174" stroke="#f0f0f0" stroke-width="3.8" fill="none"/>
<text transform="translate(1256.60,1261.20) scale(0.9579,1)" font-size="25.58" text-anchor="end">WDLS</text>
<text transform="translate(1256.60,1286.41) scale(0.9579,1)" font-size="25.58" text-anchor="end">DDLS</text>
<text transform="translate(1256.60,1311.62) scale(0.9579,1)" font-size="25.58" text-anchor="end">INTS</text>
<text transform="translate(1256.60,1336.83) scale(0.9579,1)" font-size="25.58" text-anchor="end">DSRCT</text>
<text transform="translate(1256.60,1362.04) scale(0.9579,1)" font-size="25.58" text-anchor="end">EPIS</text>
<text transform="translate(1256.60,1387.25) scale(0.9579,1)" font-size="25.58" text-anchor="end">GIST</text>
<text transform="translate(1256.60,1412.46) scale(0.9579,1)" font-size="25.58" text-anchor="end">MRLS</text>
<text transform="translate(1256.60,1437.67) scale(0.9579,1)" font-size="25.58" text-anchor="end">SFT</text>
<text transform="translate(1256.60,1462.88) scale(0.9579,1)" font-size="25.58" text-anchor="end">DES</text>
<text x="1261.30" y="1488.09" font-size="24.50" text-anchor="end">Extraskeletal OS</text>
<text transform="translate(1256.60,1513.30) scale(0.9579,1)" font-size="25.58" text-anchor="end">PLLS</text>
<text transform="translate(1256.60,1538.51) scale(0.9579,1)" font-size="25.58" text-anchor="end">DDCHS</text>
<text transform="translate(1256.60,1563.72) scale(0.9579,1)" font-size="25.58" text-anchor="end">ULMS</text>
<text transform="translate(1256.60,1588.93) scale(0.9579,1)" font-size="25.58" text-anchor="end">LMS</text>
<text transform="translate(1256.60,1614.14) scale(0.9579,1)" font-size="25.58" text-anchor="end">UPS</text>
<text transform="translate(1256.60,1639.35) scale(0.9579,1)" font-size="25.58" text-anchor="end">MPNST</text>
<text transform="translate(1256.60,1664.56) scale(0.9579,1)" font-size="25.58" text-anchor="end">OS</text>
<text transform="translate(1256.60,1689.77) scale(0.9579,1)" font-size="25.58" text-anchor="end">MFS</text>
<text transform="translate(1256.60,1714.98) scale(0.9579,1)" font-size="25.58" text-anchor="end">PECOMA</text>
<text transform="translate(1256.60,1740.19) scale(0.9579,1)" font-size="25.58" text-anchor="end">ANGS</text>
<text transform="translate(1256.60,1765.40) scale(0.9579,1)" font-size="25.58" text-anchor="end">UAS</text>
<text transform="translate(1256.60,1790.61) scale(0.9579,1)" font-size="25.58" text-anchor="end">ERMS</text>
<text transform="translate(1256.60,1815.82) scale(0.9579,1)" font-size="25.58" text-anchor="end">HGESS</text>
<text transform="translate(1256.60,1841.03) scale(0.9579,1)" font-size="25.58" text-anchor="end">SCSRMS</text>
<text transform="translate(1256.60,1866.24) scale(0.9579,1)" font-size="25.58" text-anchor="end">CHS</text>
<text transform="translate(1256.60,1891.45) scale(0.9579,1)" font-size="25.58" text-anchor="end">CCS</text>
<text transform="translate(1256.60,1916.66) scale(0.9579,1)" font-size="25.58" text-anchor="end">ES</text>
<text transform="translate(1256.60,1941.87) scale(0.9579,1)" font-size="25.58" text-anchor="end">EMCHS</text>
<text x="1256.60" y="1967.08" font-size="24.50" text-anchor="end">RCS_other</text>
<text transform="translate(1256.60,1992.29) scale(0.9579,1)" font-size="25.58" text-anchor="end">SEF</text>
<text transform="translate(1256.60,2017.50) scale(0.9579,1)" font-size="25.58" text-anchor="end">SYNS</text>
<text transform="translate(1256.60,2042.71) scale(0.9579,1)" font-size="25.58" text-anchor="end">IMT</text>
<text transform="translate(1256.60,2067.92) scale(0.9579,1)" font-size="25.58" text-anchor="end">ARMS</text>
<text transform="translate(1256.60,2093.13) scale(0.9579,1)" font-size="25.58" text-anchor="end">LGFMS</text>
<text transform="translate(1256.60,2118.34) scale(0.9579,1)" font-size="25.58" text-anchor="end">EHAE</text>
<text transform="translate(1256.60,2143.55) scale(0.9579,1)" font-size="25.58" text-anchor="end">LGESS</text>
<text transform="translate(1256.60,2168.76) scale(0.9579,1)" font-size="25.58" text-anchor="end">ASPS</text>
<rect x="1409.00" y="1240.60" width="317.00" height="23.00" fill="#ebebeb"/>
<rect x="1409.00" y="1240.60" width="317.24" height="23.00" fill="#76972a"/>
<rect x="1409.00" y="1265.81" width="317.00" height="23.00" fill="#ebebeb"/>
<rect x="1409.00" y="1265.81" width="8.06" height="23.00" fill="#42446f"/>
<rect x="1416.81" y="1265.81" width="1.37" height="23.00" fill="#9cc3c7"/>
<rect x="1417.93" y="1265.81" width="2.49" height="23.00" fill="#ddecf1"/>
<rect x="1420.18" y="1265.81" width="2.49" height="23.00" fill="#f8df97"/>
<rect x="1422.42" y="1265.81" width="299.71" height="23.00" fill="#76972a"/>
<rect x="1409.00" y="1291.02" width="317.00" height="23.00" fill="#ebebeb"/>
<rect x="1409.00" y="1291.02" width="53.27" height="23.00" fill="#42446f"/>
<rect x="1462.02" y="1291.02" width="17.62" height="23.00" fill="#ffadb0"/>
<rect x="1479.39" y="1291.02" width="18.00" height="23.00" fill="#e08837"/>
<rect x="1497.14" y="1291.02" width="210.97" height="23.00" fill="#76972a"/>
<rect x="1409.00" y="1316.23" width="317.00" height="23.00" fill="#ebebeb"/>
<rect x="1409.00" y="1316.23" width="6.19" height="23.00" fill="#42446f"/>
<rect x="1414.94" y="1316.23" width="12.39" height="23.00" fill="#ddecf1"/>
<rect x="1427.09" y="1316.23" width="12.39" height="23.00" fill="#f8df97"/>
<rect x="1439.23" y="1316.23" width="5.85" height="23.00" fill="#deeba3"/>
<rect x="1444.83" y="1316.23" width="251.14" height="23.00" fill="#364a1e"/>
<rect x="1409.00" y="1341.44" width="317.00" height="23.00" fill="#ebebeb"/>
<rect x="1409.00" y="1341.44" width="11.24" height="23.00" fill="#78503c"/>
<rect x="1419.99" y="1341.44" width="11.27" height="23.00" fill="#42446f"/>
<rect x="1431.01" y="1341.44" width="229.28" height="23.00" fill="#deeba3"/>
<rect x="1409.00" y="1366.65" width="317.00" height="23.00" fill="#ebebeb"/>
<rect x="1409.00" y="1366.65" width="12.36" height="23.00" fill="#b59786"/>
<rect x="1421.11" y="1366.65" width="5.11" height="23.00" fill="#42446f"/>
<rect x="1425.97" y="1366.65" width="4.17" height="23.00" fill="#ddecf1"/>
<rect x="1429.89" y="1366.65" width="2.30" height="23.00" fill="#a46f93"/>
<rect x="1431.94" y="1366.65" width="1.56" height="23.00" fill="#542344"/>
<rect x="1433.25" y="1366.65" width="54.80" height="23.00" fill="#ffadb0"/>
<rect x="1487.80" y="1366.65" width="26.40" height="23.00" fill="#ab321a"/>
<rect x="1513.95" y="1366.65" width="172.12" height="23.00" fill="#e08837"/>
<rect x="1685.82" y="1366.65" width="2.12" height="23.00" fill="#f8df97"/>
<rect x="1687.69" y="1366.65" width="2.12" height="23.00" fill="#deeba3"/>
<rect x="1689.56" y="1366.65" width="1.56" height="23.00" fill="#76972a"/>
<rect x="1409.00" y="1391.86" width="317.00" height="23.00" fill="#ebebeb"/>
<rect x="1409.00" y="1391.86" width="20.21" height="23.00" fill="#ddecf1"/>
<rect x="1428.96" y="1391.86" width="244.04" height="23.00" fill="#f8df97"/>
<rect x="1409.00" y="1417.07" width="317.00" height="23.00" fill="#ebebeb"/>
<rect x="1409.00" y="1417.07" width="18.71" height="23.00" fill="#42446f"/>
<rect x="1427.46" y="1417.07" width="73.29" height="23.00" fill="#ddecf1"/>
<rect x="1500.50" y="1417.07" width="6.23" height="23.00" fill="#a46f93"/>
<rect x="1506.48" y="1417.07" width="79.64" height="23.00" fill="#f8df97"/>
<rect x="1409.00" y="1442.28" width="317.00" height="23.00" fill="#ebebeb"/>
<rect x="1409.00" y="1442.28" width="216.92" height="23.00" fill="#060606"/>
<rect x="1409.00" y="1467.49" width="317.00" height="23.00" fill="#ebebeb"/>
<rect x="1409.00" y="1467.49" width="35.71" height="23.00" fill="#060606"/>
<rect x="1444.46" y="1467.49" width="105.80" height="23.00" fill="#42446f"/>
<rect x="1550.01" y="1467.49" width="35.18" height="23.00" fill="#ddecf1"/>
<rect x="1584.94" y="1467.49" width="35.37" height="23.00" fill="#e3c1dc"/>
<rect x="1620.06" y="1467.49" width="106.17" height="23.00" fill="#542344"/>
<rect x="1409.00" y="1492.70" width="317.00" height="23.00" fill="#ebebeb"/>
<rect x="1409.00" y="1492.70" width="14.79" height="23.00" fill="#060606"/>
<rect x="1423.54" y="1492.70" width="14.63" height="23.00" fill="#42446f"/>
<rect x="1437.92" y="1492.70" width="14.82" height="23.00" fill="#9cc3c7"/>
<rect x="1452.49" y="1492.70" width="158.48" height="23.00" fill="#ddecf1"/>
<rect x="1610.72" y="1492.70" width="14.45" height="23.00" fill="#e3c1dc"/>
<rect x="1624.92" y="1492.70" width="57.97" height="23.00" fill="#a46f93"/>
<rect x="1682.65" y="1492.70" width="29.02" height="23.00" fill="#542344"/>
<rect x="1409.00" y="1517.91" width="317.00" height="23.00" fill="#ebebeb"/>
<rect x="1409.00" y="1517.91" width="68.22" height="23.00" fill="#42446f"/>
<rect x="1476.97" y="1517.91" width="158.29" height="23.00" fill="#ddecf1"/>
<rect x="1635.01" y="1517.91" width="23.23" height="23.00" fill="#a46f93"/>
<rect x="1657.99" y="1517.91" width="22.85" height="23.00" fill="#f8df97"/>
<rect x="1409.00" y="1543.12" width="317.00" height="23.00" fill="#ebebeb"/>
<rect x="1409.00" y="1543.12" width="35.15" height="23.00" fill="#060606"/>
<rect x="1443.90" y="1543.12" width="2.12" height="23.00" fill="#78503c"/>
<rect x="1445.77" y="1543.12" width="6.04" height="23.00" fill="#b59786"/>
<rect x="1451.56" y="1543.12" width="23.04" height="23.00" fill="#42446f"/>
<rect x="1474.35" y="1543.12" width="13.89" height="23.00" fill="#9cc3c7"/>
<rect x="1487.99" y="1543.12" width="61.34" height="23.00" fill="#ddecf1"/>
<rect x="1549.08" y="1543.12" width="27.15" height="23.00" fill="#e3c1dc"/>
<rect x="1575.98" y="1543.12" width="35.18" height="23.00" fill="#a46f93"/>
<rect x="1610.91" y="1543.12" width="57.41" height="23.00" fill="#542344"/>
<rect x="1668.07" y="1543.12" width="2.30" height="23.00" fill="#e08837"/>
<rect x="1670.13" y="1543.12" width="4.73" height="23.00" fill="#f8df97"/>
<rect x="1674.61" y="1543.12" width="1.56" height="23.00" fill="#deeba3"/>
<rect x="1675.92" y="1543.12" width="3.99" height="23.00" fill="#76972a"/>
<rect x="1409.00" y="1568.33" width="317.00" height="23.00" fill="#ebebeb"/>
<rect x="1409.00" y="1568.33" width="25.62" height="23.00" fill="#060606"/>
<rect x="1434.37" y="1568.33" width="2.87" height="23.00" fill="#b59786"/>
<rect x="1436.99" y="1568.33" width="8.10" height="23.00" fill="#42446f"/>
<rect x="1444.83" y="1568.33" width="27.71" height="23.00" fill="#9cc3c7"/>
<rect x="1472.30" y="1568.33" width="88.99" height="23.00" fill="#ddecf1"/>
<rect x="1561.03" y="1568.33" width="18.18" height="23.00" fill="#e3c1dc"/>
<rect x="1578.97" y="1568.33" width="50.88" height="23.00" fill="#a46f93"/>
<rect x="1629.59" y="1568.33" width="20.43" height="23.00" fill="#542344"/>
<rect x="1649.77" y="1568.33" width="5.67" height="23.00" fill="#f8df97"/>
<rect x="1655.18" y="1568.33" width="2.49" height="23.00" fill="#deeba3"/>
<rect x="1657.43" y="1568.33" width="5.29" height="23.00" fill="#76972a"/>
<rect x="1409.00" y="1593.54" width="317.00" height="23.00" fill="#ebebeb"/>
<rect x="1409.00" y="1593.54" width="6.94" height="23.00" fill="#060606"/>
<rect x="1415.69" y="1593.54" width="2.49" height="23.00" fill="#78503c"/>
<rect x="1417.93" y="1593.54" width="6.79" height="23.00" fill="#b59786"/>
<rect x="1424.47" y="1593.54" width="32.76" height="23.00" fill="#42446f"/>
<rect x="1456.98" y="1593.54" width="7.16" height="23.00" fill="#9cc3c7"/>
<rect x="1463.89" y="1593.54" width="89.55" height="23.00" fill="#ddecf1"/>
<rect x="1553.19" y="1593.54" width="17.81" height="23.00" fill="#e3c1dc"/>
<rect x="1570.75" y="1593.54" width="35.56" height="23.00" fill="#a46f93"/>
<rect x="1606.05" y="1593.54" width="30.14" height="23.00" fill="#542344"/>
<rect x="1635.94" y="1593.54" width="5.11" height="23.00" fill="#ffadb0"/>
<rect x="1640.80" y="1593.54" width="6.41" height="23.00" fill="#e08837"/>
<rect x="1646.96" y="1593.54" width="12.02" height="23.00" fill="#f8df97"/>
<rect x="1658.73" y="1593.54" width="1.56" height="23.00" fill="#deeba3"/>
<rect x="1660.04" y="1593.54" width="2.68" height="23.00" fill="#76972a"/>
<rect x="1409.00" y="1618.75" width="317.00" height="23.00" fill="#ebebeb"/>
<rect x="1409.00" y="1618.75" width="6.57" height="23.00" fill="#060606"/>
<rect x="1415.32" y="1618.75" width="12.95" height="23.00" fill="#78503c"/>
<rect x="1428.02" y="1618.75" width="12.95" height="23.00" fill="#b59786"/>
<rect x="1440.72" y="1618.75" width="126.91" height="23.00" fill="#42446f"/>
<rect x="1567.38" y="1618.75" width="44.71" height="23.00" fill="#ddecf1"/>
<rect x="1611.84" y="1618.75" width="6.23" height="23.00" fill="#a46f93"/>
<rect x="1617.82" y="1618.75" width="19.68" height="23.00" fill="#f8df97"/>
<rect x="1637.25" y="1618.75" width="19.12" height="23.00" fill="#deeba3"/>
<rect x="1409.00" y="1643.96" width="317.00" height="23.00" fill="#ebebeb"/>
<rect x="1409.00" y="1643.96" width="10.30" height="23.00" fill="#060606"/>
<rect x="1419.05" y="1643.96" width="5.11" height="23.00" fill="#78503c"/>
<rect x="1423.91" y="1643.96" width="46.77" height="23.00" fill="#42446f"/>
<rect x="1470.43" y="1643.96" width="14.82" height="23.00" fill="#9cc3c7"/>
<rect x="1485.00" y="1643.96" width="83.94" height="23.00" fill="#ddecf1"/>
<rect x="1568.69" y="1643.96" width="5.48" height="23.00" fill="#e3c1dc"/>
<rect x="1573.92" y="1643.96" width="14.45" height="23.00" fill="#a46f93"/>
<rect x="1588.12" y="1643.96" width="5.11" height="23.00" fill="#542344"/>
<rect x="1592.98" y="1643.96" width="8.28" height="23.00" fill="#ffadb0"/>
<rect x="1601.01" y="1643.96" width="17.06" height="23.00" fill="#e08837"/>
<rect x="1617.82" y="1643.96" width="5.29" height="23.00" fill="#f8df97"/>
<rect x="1622.87" y="1643.96" width="17.25" height="23.00" fill="#76972a"/>
<rect x="1409.00" y="1669.17" width="317.00" height="23.00" fill="#ebebeb"/>
<rect x="1409.00" y="1669.17" width="66.91" height="23.00" fill="#42446f"/>
<rect x="1475.66" y="1669.17" width="8.66" height="23.00" fill="#9cc3c7"/>
<rect x="1484.07" y="1669.17" width="66.94" height="23.00" fill="#ddecf1"/>
<rect x="1550.76" y="1669.17" width="17.06" height="23.00" fill="#e3c1dc"/>
<rect x="1567.57" y="1669.17" width="25.28" height="23.00" fill="#a46f93"/>
<rect x="1592.60" y="1669.17" width="16.50" height="23.00" fill="#542344"/>
<rect x="1608.85" y="1669.17" width="8.84" height="23.00" fill="#f8df97"/>
<rect x="1409.00" y="1694.38" width="317.00" height="23.00" fill="#ebebeb"/>
<rect x="1409.00" y="1694.38" width="21.14" height="23.00" fill="#060606"/>
<rect x="1429.89" y="1694.38" width="11.27" height="23.00" fill="#b59786"/>
<rect x="1440.91" y="1694.38" width="10.71" height="23.00" fill="#42446f"/>
<rect x="1451.37" y="1694.38" width="21.17" height="23.00" fill="#9cc3c7"/>
<rect x="1472.30" y="1694.38" width="32.01" height="23.00" fill="#ddecf1"/>
<rect x="1504.05" y="1694.38" width="21.36" height="23.00" fill="#e3c1dc"/>
<rect x="1525.16" y="1694.38" width="32.01" height="23.00" fill="#a46f93"/>
<rect x="1556.92" y="1694.38" width="10.71" height="23.00" fill="#542344"/>
<rect x="1567.38" y="1694.38" width="21.55" height="23.00" fill="#f8df97"/>
<rect x="1588.68" y="1694.38" width="10.71" height="23.00" fill="#76972a"/>
<rect x="1409.00" y="1719.59" width="317.00" height="23.00" fill="#ebebeb"/>
<rect x="1409.00" y="1719.59" width="66.35" height="23.00" fill="#78503c"/>
<rect x="1475.10" y="1719.59" width="3.24" height="23.00" fill="#b59786"/>
<rect x="1478.09" y="1719.59" width="6.60" height="23.00" fill="#42446f"/>
<rect x="1484.44" y="1719.59" width="56.67" height="23.00" fill="#ddecf1"/>
<rect x="1540.86" y="1719.59" width="19.30" height="23.00" fill="#e3c1dc"/>
<rect x="1559.91" y="1719.59" width="3.05" height="23.00" fill="#a46f93"/>
<rect x="1562.71" y="1719.59" width="16.13" height="23.00" fill="#e08837"/>
<rect x="1578.59" y="1719.59" width="2.87" height="23.00" fill="#f8df97"/>
<rect x="1581.21" y="1719.59" width="3.99" height="23.00" fill="#364a1e"/>
<rect x="1409.00" y="1744.80" width="317.00" height="23.00" fill="#ebebeb"/>
<rect x="1409.00" y="1744.80" width="23.01" height="23.00" fill="#060606"/>
<rect x="1431.76" y="1744.80" width="45.27" height="23.00" fill="#78503c"/>
<rect x="1476.78" y="1744.80" width="45.65" height="23.00" fill="#42446f"/>
<rect x="1522.17" y="1744.80" width="23.04" height="23.00" fill="#f8df97"/>
<rect x="1409.00" y="1770.01" width="317.00" height="23.00" fill="#ebebeb"/>
<rect x="1409.00" y="1770.01" width="15.16" height="23.00" fill="#060606"/>
<rect x="1423.91" y="1770.01" width="15.19" height="23.00" fill="#78503c"/>
<rect x="1438.86" y="1770.01" width="29.39" height="23.00" fill="#b59786"/>
<rect x="1468.00" y="1770.01" width="15.19" height="23.00" fill="#42446f"/>
<rect x="1482.94" y="1770.01" width="29.39" height="23.00" fill="#ddecf1"/>
<rect x="1512.09" y="1770.01" width="7.91" height="23.00" fill="#a46f93"/>
<rect x="1519.75" y="1770.01" width="22.48" height="23.00" fill="#f8df97"/>
<rect x="1409.00" y="1795.22" width="317.00" height="23.00" fill="#ebebeb"/>
<rect x="1409.00" y="1795.22" width="29.17" height="23.00" fill="#42446f"/>
<rect x="1437.92" y="1795.22" width="29.02" height="23.00" fill="#ddecf1"/>
<rect x="1466.69" y="1795.22" width="29.02" height="23.00" fill="#f8df97"/>
<rect x="1495.46" y="1795.22" width="28.83" height="23.00" fill="#76972a"/>
<rect x="1409.00" y="1820.43" width="317.00" height="23.00" fill="#ebebeb"/>
<rect x="1409.00" y="1820.43" width="21.33" height="23.00" fill="#b59786"/>
<rect x="1430.08" y="1820.43" width="21.55" height="23.00" fill="#42446f"/>
<rect x="1451.37" y="1820.43" width="42.66" height="23.00" fill="#ddecf1"/>
<rect x="1493.78" y="1820.43" width="21.17" height="23.00" fill="#e3c1dc"/>
<rect x="1409.00" y="1845.64" width="317.00" height="23.00" fill="#ebebeb"/>
<rect x="1409.00" y="1845.64" width="23.19" height="23.00" fill="#42446f"/>
<rect x="1431.94" y="1845.64" width="54.61" height="23.00" fill="#ddecf1"/>
<rect x="1486.31" y="1845.64" width="8.10" height="23.00" fill="#a46f93"/>
<rect x="1494.15" y="1845.64" width="7.91" height="23.00" fill="#542344"/>
<rect x="1501.81" y="1845.64" width="7.91" height="23.00" fill="#f8df97"/>
<rect x="1409.00" y="1870.85" width="317.00" height="23.00" fill="#ebebeb"/>
<rect x="1409.00" y="1870.85" width="20.21" height="23.00" fill="#78503c"/>
<rect x="1428.96" y="1870.85" width="20.05" height="23.00" fill="#ddecf1"/>
<rect x="1448.76" y="1870.85" width="39.48" height="23.00" fill="#f8df97"/>
<rect x="1409.00" y="1896.06" width="317.00" height="23.00" fill="#ebebeb"/>
<rect x="1409.00" y="1896.06" width="3.58" height="23.00" fill="#060606"/>
<rect x="1412.33" y="1896.06" width="3.43" height="23.00" fill="#78503c"/>
<rect x="1415.51" y="1896.06" width="12.95" height="23.00" fill="#42446f"/>
<rect x="1428.21" y="1896.06" width="3.80" height="23.00" fill="#9cc3c7"/>
<rect x="1431.76" y="1896.06" width="35.18" height="23.00" fill="#ddecf1"/>
<rect x="1466.69" y="1896.06" width="13.14" height="23.00" fill="#f8df97"/>
<rect x="1409.00" y="1921.27" width="317.00" height="23.00" fill="#ebebeb"/>
<rect x="1409.00" y="1921.27" width="29.17" height="23.00" fill="#ddecf1"/>
<rect x="1437.92" y="1921.27" width="29.02" height="23.00" fill="#f8df97"/>
<rect x="1409.00" y="1946.48" width="317.00" height="23.00" fill="#ebebeb"/>
<rect x="1409.00" y="1946.48" width="45.61" height="23.00" fill="#42446f"/>
<rect x="1454.36" y="1946.48" width="9.40" height="23.00" fill="#f8df97"/>
<rect x="1409.00" y="1971.69" width="317.00" height="23.00" fill="#ebebeb"/>
<rect x="1409.00" y="1971.69" width="53.08" height="23.00" fill="#42446f"/>
<rect x="1409.00" y="1996.90" width="317.00" height="23.00" fill="#ebebeb"/>
<rect x="1409.00" y="1996.90" width="9.18" height="23.00" fill="#060606"/>
<rect x="1417.93" y="1996.90" width="8.47" height="23.00" fill="#78503c"/>
<rect x="1426.15" y="1996.90" width="4.55" height="23.00" fill="#42446f"/>
<rect x="1430.45" y="1996.90" width="9.03" height="23.00" fill="#ddecf1"/>
<rect x="1439.23" y="1996.90" width="4.55" height="23.00" fill="#e08837"/>
<rect x="1443.53" y="1996.90" width="4.55" height="23.00" fill="#f8df97"/>
<rect x="1447.82" y="1996.90" width="8.28" height="23.00" fill="#deeba3"/>
<rect x="1455.86" y="1996.90" width="4.92" height="23.00" fill="#76972a"/>
<rect x="1409.00" y="2022.11" width="317.00" height="23.00" fill="#ebebeb"/>
<rect x="1409.00" y="2022.11" width="39.82" height="23.00" fill="#ddecf1"/>
<rect x="1409.00" y="2047.32" width="317.00" height="23.00" fill="#ebebeb"/>
<rect x="1409.00" y="2047.32" width="11.24" height="23.00" fill="#42446f"/>
<rect x="1419.99" y="2047.32" width="11.27" height="23.00" fill="#a46f93"/>
<rect x="1431.01" y="2047.32" width="11.27" height="23.00" fill="#76972a"/>
<rect x="1409.00" y="2072.53" width="317.00" height="23.00" fill="#ebebeb"/>
<rect x="1409.00" y="2072.53" width="32.16" height="23.00" fill="#deeba3"/>
<rect x="1409.00" y="2097.74" width="317.00" height="23.00" fill="#ebebeb"/>
<rect x="1409.00" y="2097.74" width="17.96" height="23.00" fill="#42446f"/>
<rect x="1409.00" y="2122.95" width="317.00" height="23.00" fill="#ebebeb"/>
<rect x="1409.00" y="2148.16" width="317.00" height="23.00" fill="#ebebeb"/>
<circle cx="1266.57" cy="1252.10" r="9.4" fill="#4a4646"/>
<circle cx="1280.29" cy="1277.31" r="9.4" fill="#4a4646"/>
<circle cx="1317.43" cy="1302.52" r="9.4" fill="#4a4646"/>
<circle cx="1305.43" cy="1327.73" r="9.4" fill="#4a4646"/>
<circle cx="1304.86" cy="1352.94" r="9.4" fill="#4a4646"/>
<circle cx="1337.71" cy="1378.15" r="9.4" fill="#4a4646"/>
<circle cx="1299.14" cy="1403.36" r="9.4" fill="#4a4646"/>
<circle cx="1328.86" cy="1428.57" r="9.4" fill="#4a4646"/>
<circle cx="1296.57" cy="1453.78" r="9.4" fill="#4a4646"/>
<circle cx="1337.71" cy="1478.99" r="9.4" fill="#4a4646"/>
<circle cx="1342.86" cy="1504.20" r="9.4" fill="#4a4646"/>
<circle cx="1331.14" cy="1529.41" r="9.4" fill="#4a4646"/>
<circle cx="1373.43" cy="1554.62" r="9.4" fill="#4a4646"/>
<circle cx="1364.57" cy="1579.83" r="9.4" fill="#4a4646"/>
<circle cx="1370.29" cy="1605.04" r="9.4" fill="#4a4646"/>
<circle cx="1350.29" cy="1630.25" r="9.4" fill="#4a4646"/>
<circle cx="1365.71" cy="1655.46" r="9.4" fill="#4a4646"/>
<circle cx="1350.29" cy="1680.67" r="9.4" fill="#4a4646"/>
<circle cx="1363.43" cy="1705.88" r="9.4" fill="#4a4646"/>
<circle cx="1344.57" cy="1731.09" r="9.4" fill="#4a4646"/>
<circle cx="1327.14" cy="1756.30" r="9.4" fill="#4a4646"/>
<circle cx="1337.43" cy="1781.51" r="9.4" fill="#4a4646"/>
<circle cx="1322.57" cy="1806.72" r="9.4" fill="#4a4646"/>
<circle cx="1318.86" cy="1831.93" r="9.4" fill="#4a4646"/>
<circle cx="1316.29" cy="1857.14" r="9.4" fill="#4a4646"/>
<circle cx="1306.29" cy="1882.35" r="9.4" fill="#4a4646"/>
<circle cx="1307.14" cy="1907.56" r="9.4" fill="#4a4646"/>
<circle cx="1295.71" cy="1932.77" r="9.4" fill="#4a4646"/>
<circle cx="1292.29" cy="1957.98" r="9.4" fill="#4a4646"/>
<circle cx="1288.29" cy="1983.19" r="9.4" fill="#4a4646"/>
<circle cx="1304.00" cy="2008.40" r="9.4" fill="#4a4646"/>
<circle cx="1284.86" cy="2033.61" r="9.4" fill="#4a4646"/>
<circle cx="1288.29" cy="2058.82" r="9.4" fill="#4a4646"/>
<circle cx="1282.29" cy="2084.03" r="9.4" fill="#4a4646"/>
<circle cx="1277.14" cy="2109.24" r="9.4" fill="#4a4646"/>
<circle cx="1266.57" cy="2134.45" r="9.4" fill="#4a4646"/>
<circle cx="1266.57" cy="2159.66" r="9.4" fill="#4a4646"/>
<line x1="1266.60" y1="1237.00" x2="1266.60" y2="2176.40" stroke="#000" stroke-width="4.0"/>
<line x1="1264.60" y1="2174.40" x2="1373.00" y2="2174.40" stroke="#000" stroke-width="4.0"/>
<line x1="1409.00" y1="1237.00" x2="1409.00" y2="2176.40" stroke="#000" stroke-width="4.0"/>
<line x1="1407.00" y1="2174.40" x2="1727.60" y2="2174.40" stroke="#000" stroke-width="4.0"/>
<line x1="1266.60" y1="2174.40" x2="1266.60" y2="2182.40" stroke="#222" stroke-width="3.6"/>
<text x="1266.60" y="2204.40" font-size="24.50" text-anchor="middle" fill="#1a1a1a">0</text>
<line x1="1315.15" y1="2174.40" x2="1315.15" y2="2182.40" stroke="#222" stroke-width="3.6"/>
<text x="1315.15" y="2204.40" font-size="24.50" text-anchor="middle" fill="#1a1a1a">1</text>
<line x1="1363.70" y1="2174.40" x2="1363.70" y2="2182.40" stroke="#222" stroke-width="3.6"/>
<text x="1363.70" y="2204.40" font-size="24.50" text-anchor="middle" fill="#1a1a1a">2</text>
<line x1="1409.00" y1="2174.40" x2="1409.00" y2="2182.40" stroke="#222" stroke-width="3.6"/>
<text x="1409.00" y="2204.40" font-size="24.50" text-anchor="middle" fill="#1a1a1a">0</text>
<line x1="1488.15" y1="2174.40" x2="1488.15" y2="2182.40" stroke="#222" stroke-width="3.6"/>
<text x="1488.15" y="2204.40" font-size="24.50" text-anchor="middle" fill="#1a1a1a">25</text>
<line x1="1567.30" y1="2174.40" x2="1567.30" y2="2182.40" stroke="#222" stroke-width="3.6"/>
<text x="1567.30" y="2204.40" font-size="24.50" text-anchor="middle" fill="#1a1a1a">50</text>
<line x1="1646.45" y1="2174.40" x2="1646.45" y2="2182.40" stroke="#222" stroke-width="3.6"/>
<text x="1646.45" y="2204.40" font-size="24.50" text-anchor="middle" fill="#1a1a1a">75</text>
<line x1="1725.60" y1="2174.40" x2="1725.60" y2="2182.40" stroke="#222" stroke-width="3.6"/>
<text x="1725.60" y="2204.40" font-size="24.50" text-anchor="middle" fill="#1a1a1a">100</text>
<text x="1325.00" y="2236.00" font-size="31.00" text-anchor="middle">Entropy</text>
<text x="1573.40" y="2236.60" font-size="31.00" text-anchor="middle">Cluster (%)</text>
<text transform="translate(1763.20,1433.40) scale(0.9450,1)" font-size="30.20" font-weight="bold">Cluster</text>
<rect x="1763.10" y="1444.00" width="31.00" height="30.90" fill="#ebebeb"/>
<text x="1802.6" y="1471.10" font-size="24.5">O<tspan dx="-4.5">THER</tspan></text>
<rect x="1763.10" y="1480.06" width="31.00" height="30.90" fill="#364a1e"/>
<text transform="translate(1802.60,1507.16) scale(0.9579,1)" font-size="25.58">WT1 (DSRCT)</text>
<rect x="1763.10" y="1516.12" width="31.00" height="30.90" fill="#76972a"/>
<text transform="translate(1802.60,1543.22) scale(0.9579,1)" font-size="25.58">MDM2–CDK4</text>
<rect x="1763.10" y="1552.18" width="31.00" height="30.90" fill="#deeba3"/>
<text transform="translate(1802.60,1579.28) scale(0.9579,1)" font-size="25.58">SMARCB1 (EPIS)</text>
<rect x="1763.10" y="1588.24" width="31.00" height="30.90" fill="#f8df97"/>
<text transform="translate(1802.60,1615.34) scale(0.9579,1)" font-size="25.58" letter-spacing="-5">TERT</text>
<rect x="1763.10" y="1624.30" width="31.00" height="30.90" fill="#e08837"/>
<text transform="translate(1802.60,1651.40) scale(0.9579,1)" font-size="25.58">KIT</text>
<rect x="1763.10" y="1660.36" width="31.00" height="30.90" fill="#ab321a"/>
<text transform="translate(1802.60,1687.46) scale(0.9579,1)" font-size="25.58">PDGFRA</text>
<rect x="1763.10" y="1696.42" width="31.00" height="30.90" fill="#ffadb0"/>
<text transform="translate(1802.60,1723.52) scale(0.9579,1)" font-size="25.58">KIT–CDKN2A/B</text>
<rect x="1763.10" y="1732.48" width="31.00" height="30.90" fill="#542344"/>
<text x="1802.6" y="1759.58" font-size="24.5">TP53<tspan dx="-0.5">-</tspan><tspan dx="-4.5" letter-spacing="-1.3">ATRX</tspan><tspan dx="0.8">–RB1</tspan></text>
<rect x="1763.10" y="1768.54" width="31.00" height="30.90" fill="#a46f93"/>
<text transform="translate(1802.60,1795.64) scale(0.9579,1)" font-size="25.58">TP53–RB1</text>
<rect x="1763.10" y="1804.60" width="31.00" height="30.90" fill="#e3c1dc"/>
<text x="1802.6" y="1831.70" font-size="24.5">TP53<tspan dx="-0.5">-</tspan><tspan dx="-4.5" letter-spacing="-1.3">ATRX</tspan><tspan dx="0.8"></tspan></text>
<rect x="1763.10" y="1840.66" width="31.00" height="30.90" fill="#ddecf1"/>
<text transform="translate(1802.60,1867.76) scale(0.9579,1)" font-size="25.58">TP53</text>
<rect x="1763.10" y="1876.72" width="31.00" height="30.90" fill="#9cc3c7"/>
<text transform="translate(1802.60,1903.82) scale(0.9579,1)" font-size="25.58">RB1</text>
<rect x="1763.10" y="1912.78" width="31.00" height="30.90" fill="#42446f"/>
<text transform="translate(1802.60,1939.88) scale(0.9579,1)" font-size="25.58">CDKN2A/B</text>
<rect x="1763.10" y="1948.84" width="31.00" height="30.90" fill="#b59786"/>
<text transform="translate(1802.60,1975.94) scale(0.9579,1)" font-size="25.58">NF1</text>
<rect x="1763.10" y="1984.90" width="31.00" height="30.90" fill="#78503c"/>
<text transform="translate(1802.60,2012.00) scale(0.9579,1)" font-size="25.58">MYC</text>
<rect x="1763.10" y="2020.96" width="31.00" height="30.90" fill="#060606"/>
<text transform="translate(1802.60,2048.06) scale(0.9579,1)" font-size="25.58">NA</text>
</g>
</svg>
</body></html>
